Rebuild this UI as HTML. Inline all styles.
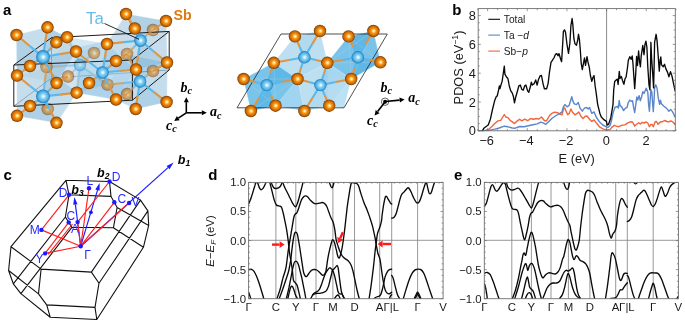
<!DOCTYPE html>
<html><head><meta charset="utf-8"><title>fig</title>
<style>
html,body{margin:0;padding:0;background:#fff;}
body{width:685px;height:324px;overflow:hidden;font-family:"Liberation Sans",sans-serif;}
svg{display:block;will-change:transform;transform:translateZ(0);}
text{font-family:"Liberation Sans",sans-serif;}
.ser{font-family:"Liberation Serif",serif;font-weight:bold;font-style:italic;}
</style></head><body>
<svg width="685" height="324" viewBox="0 0 685 324">
<defs>
<radialGradient id="gSb" cx="0.5" cy="0.5" r="0.5" fx="0.53" fy="0.50">
<stop offset="0" stop-color="#fffdf0"/><stop offset="0.2" stop-color="#ffd670"/><stop offset="0.4" stop-color="#f4941a"/><stop offset="0.6" stop-color="#e57c06"/><stop offset="0.82" stop-color="#bc6003"/><stop offset="1" stop-color="#6e3400"/>
</radialGradient>
<radialGradient id="gTa" cx="0.5" cy="0.5" r="0.5" fx="0.53" fy="0.50">
<stop offset="0" stop-color="#f4fdff"/><stop offset="0.18" stop-color="#c8eefc"/><stop offset="0.4" stop-color="#84cef2"/><stop offset="0.66" stop-color="#5bbaec"/><stop offset="0.86" stop-color="#3a9ad2"/><stop offset="1" stop-color="#2070a6"/>
</radialGradient>
</defs>
<rect width="685" height="324" fill="#fff"/>
<g id="pa">
<line x1="51.5" y1="37.7" x2="51.5" y2="78" stroke="#333" stroke-width="0.7"/>
<line x1="51.5" y1="78" x2="169.2" y2="70" stroke="#333" stroke-width="0.7"/>
<line x1="13.8" y1="106.3" x2="51.5" y2="78" stroke="#333" stroke-width="0.7"/>
<line x1="80.0" y1="65.0" x2="93.8" y2="74.8" stroke="#5ab8ec" stroke-width="2.2" opacity="0.8"/>
<line x1="93.8" y1="74.8" x2="107.5" y2="84.6" stroke="#dc9644" stroke-width="2.2" opacity="0.8"/>
<line x1="80.0" y1="65.0" x2="78.3" y2="78.8" stroke="#5ab8ec" stroke-width="2.2" opacity="0.8"/>
<line x1="78.3" y1="78.8" x2="76.6" y2="92.7" stroke="#dc9644" stroke-width="2.2" opacity="0.8"/>
<line x1="80.0" y1="65.0" x2="74.0" y2="70.8" stroke="#5ab8ec" stroke-width="2.2" opacity="0.8"/>
<line x1="74.0" y1="70.8" x2="68.0" y2="76.5" stroke="#dc9644" stroke-width="2.2" opacity="0.8"/>
<line x1="80.0" y1="65.0" x2="63.2" y2="66.0" stroke="#5ab8ec" stroke-width="2.2" opacity="0.8"/>
<line x1="63.2" y1="66.0" x2="46.5" y2="67.0" stroke="#dc9644" stroke-width="2.2" opacity="0.8"/>
<line x1="80.0" y1="65.0" x2="87.0" y2="59.0" stroke="#5ab8ec" stroke-width="2.2" opacity="0.8"/>
<line x1="87.0" y1="59.0" x2="94.0" y2="53.0" stroke="#dc9644" stroke-width="2.2" opacity="0.8"/>
<line x1="80.0" y1="65.0" x2="78.0" y2="58.2" stroke="#5ab8ec" stroke-width="2.2" opacity="0.8"/>
<line x1="78.0" y1="58.2" x2="76.0" y2="51.5" stroke="#dc9644" stroke-width="2.2" opacity="0.8"/>
<line x1="80.0" y1="65.0" x2="73.5" y2="51.1" stroke="#5ab8ec" stroke-width="2.2" opacity="0.8"/>
<line x1="73.5" y1="51.1" x2="67.1" y2="37.2" stroke="#dc9644" stroke-width="2.2" opacity="0.8"/>
<circle cx="80.0" cy="65.0" r="6.2" fill="url(#gTa)" opacity="0.9"/>
<circle cx="153.0" cy="30.0" r="6.2" fill="url(#gSb)" opacity="0.6"/>
<circle cx="127.0" cy="54.0" r="6.2" fill="url(#gSb)" opacity="0.6"/>
<circle cx="94.0" cy="53.0" r="6.2" fill="url(#gSb)" opacity="0.6"/>
<circle cx="46.5" cy="67.0" r="6.2" fill="url(#gSb)" opacity="0.6"/>
<circle cx="68.0" cy="76.5" r="6.2" fill="url(#gSb)" opacity="0.6"/>
<circle cx="153.0" cy="71.0" r="6.2" fill="url(#gSb)" opacity="0.6"/>
<circle cx="107.5" cy="84.6" r="6.2" fill="url(#gSb)" opacity="0.6"/>
<circle cx="127.0" cy="94.0" r="6.2" fill="url(#gSb)" opacity="0.6"/>
<circle cx="47.7" cy="109.0" r="6.2" fill="url(#gSb)" opacity="0.6"/>
<polygon points="16.5,35.0 47.5,27.3 67.0,37.0 76.0,47.5 107.0,41.0 114.0,33.5 126.0,14.0 166.0,21.0 167.6,62.0 167.0,102.0 136.0,109.0 116.0,100.0 100.0,97.0 77.0,93.0 57.0,123.0 17.0,116.0" fill="rgba(150,192,220,0.36)"/>
<polygon points="46.5,67.0 67.1,37.2 107.0,44.0 107.5,84.6 76.6,92.7" fill="rgba(160,204,230,0.26)" stroke="rgba(215,235,246,0.5)" stroke-width="0.6"/>
<polygon points="46.5,67.0 67.1,37.2 80.0,65.0" fill="rgba(255,255,255,0.13)"/>
<polygon points="67.1,37.2 107.0,44.0 80.0,65.0" fill="rgba(60,150,210,0.10)"/>
<polygon points="107.0,44.0 107.5,84.6 80.0,65.0" fill="rgba(255,255,255,0.13)"/>
<polygon points="107.5,84.6 76.6,92.7 80.0,65.0" fill="rgba(60,150,210,0.10)"/>
<polygon points="76.6,92.7 46.5,67.0 80.0,65.0" fill="rgba(255,255,255,0.13)"/>
<polygon points="107.0,44.0 126.0,14.0 166.0,21.0 167.0,62.5 136.0,69.5" fill="rgba(140,184,214,0.34)" stroke="rgba(215,235,246,0.5)" stroke-width="0.6"/>
<polygon points="107.0,44.0 126.0,14.0 140.5,40.5" fill="rgba(255,255,255,0.13)"/>
<polygon points="126.0,14.0 166.0,21.0 140.5,40.5" fill="rgba(60,150,210,0.10)"/>
<polygon points="166.0,21.0 167.0,62.5 140.5,40.5" fill="rgba(255,255,255,0.13)"/>
<polygon points="167.0,62.5 136.0,69.5 140.5,40.5" fill="rgba(60,150,210,0.10)"/>
<polygon points="136.0,69.5 107.0,44.0 140.5,40.5" fill="rgba(255,255,255,0.13)"/>
<polygon points="107.5,84.6 127.0,54.0 167.0,62.5 166.6,102.0 135.7,109.0 116.0,99.5" fill="rgba(125,184,220,0.32)" stroke="rgba(215,235,246,0.5)" stroke-width="0.6"/>
<polygon points="107.5,84.6 127.0,54.0 140.0,81.4" fill="rgba(255,255,255,0.13)"/>
<polygon points="127.0,54.0 167.0,62.5 140.0,81.4" fill="rgba(60,150,210,0.10)"/>
<polygon points="167.0,62.5 166.6,102.0 140.0,81.4" fill="rgba(255,255,255,0.13)"/>
<polygon points="166.6,102.0 135.7,109.0 140.0,81.4" fill="rgba(60,150,210,0.10)"/>
<polygon points="135.7,109.0 116.0,99.5 140.0,81.4" fill="rgba(255,255,255,0.13)"/>
<polygon points="116.0,99.5 107.5,84.6 140.0,81.4" fill="rgba(60,150,210,0.10)"/>
<polygon points="16.5,35.0 47.5,27.3 67.1,37.2 76.0,51.5 56.5,83.0 17.0,75.5" fill="rgba(135,182,212,0.32)" stroke="rgba(215,235,246,0.5)" stroke-width="0.6"/>
<polygon points="16.5,35.0 47.5,27.3 43.0,57.0" fill="rgba(255,255,255,0.13)"/>
<polygon points="47.5,27.3 67.1,37.2 43.0,57.0" fill="rgba(60,150,210,0.10)"/>
<polygon points="67.1,37.2 76.0,51.5 43.0,57.0" fill="rgba(255,255,255,0.13)"/>
<polygon points="76.0,51.5 56.5,83.0 43.0,57.0" fill="rgba(60,150,210,0.10)"/>
<polygon points="56.5,83.0 17.0,75.5 43.0,57.0" fill="rgba(255,255,255,0.13)"/>
<polygon points="17.0,75.5 16.5,35.0 43.0,57.0" fill="rgba(60,150,210,0.10)"/>
<polygon points="17.0,75.5 46.5,67.0 76.6,92.7 56.5,122.8 17.0,115.8" fill="rgba(135,182,212,0.32)" stroke="rgba(215,235,246,0.5)" stroke-width="0.6"/>
<polygon points="17.0,75.5 46.5,67.0 43.0,96.4" fill="rgba(255,255,255,0.13)"/>
<polygon points="46.5,67.0 76.6,92.7 43.0,96.4" fill="rgba(60,150,210,0.10)"/>
<polygon points="76.6,92.7 56.5,122.8 43.0,96.4" fill="rgba(255,255,255,0.13)"/>
<polygon points="56.5,122.8 17.0,115.8 43.0,96.4" fill="rgba(60,150,210,0.10)"/>
<polygon points="17.0,115.8 17.0,75.5 43.0,96.4" fill="rgba(255,255,255,0.13)"/>
<polygon points="76.0,51.5 107.0,44.0 136.0,69.5 116.0,99.5 76.6,92.7" fill="rgba(120,185,222,0.30)" stroke="rgba(215,235,246,0.5)" stroke-width="0.6"/>
<polygon points="76.0,51.5 107.0,44.0 102.5,72.5" fill="rgba(255,255,255,0.13)"/>
<polygon points="107.0,44.0 136.0,69.5 102.5,72.5" fill="rgba(60,150,210,0.10)"/>
<polygon points="136.0,69.5 116.0,99.5 102.5,72.5" fill="rgba(255,255,255,0.13)"/>
<polygon points="116.0,99.5 76.6,92.7 102.5,72.5" fill="rgba(60,150,210,0.10)"/>
<polygon points="76.6,92.7 76.0,51.5 102.5,72.5" fill="rgba(255,255,255,0.13)"/>
<circle cx="153.0" cy="30.0" r="6.2" fill="url(#gSb)" opacity="0.42"/>
<circle cx="127.0" cy="54.0" r="6.2" fill="url(#gSb)" opacity="0.42"/>
<circle cx="94.0" cy="53.0" r="6.2" fill="url(#gSb)" opacity="0.42"/>
<circle cx="46.5" cy="67.0" r="6.2" fill="url(#gSb)" opacity="0.42"/>
<circle cx="68.0" cy="76.5" r="6.2" fill="url(#gSb)" opacity="0.42"/>
<circle cx="153.0" cy="71.0" r="6.2" fill="url(#gSb)" opacity="0.42"/>
<circle cx="107.5" cy="84.6" r="6.2" fill="url(#gSb)" opacity="0.42"/>
<circle cx="127.0" cy="94.0" r="6.2" fill="url(#gSb)" opacity="0.42"/>
<circle cx="47.7" cy="109.0" r="6.2" fill="url(#gSb)" opacity="0.42"/>
<circle cx="80.0" cy="65.0" r="6.2" fill="url(#gTa)" opacity="0.35"/>
<line x1="13.8" y1="65" x2="132.4" y2="60" stroke="#111" stroke-width="0.95"/>
<line x1="132.4" y1="60" x2="132.4" y2="100.2" stroke="#111" stroke-width="0.95"/>
<line x1="132.4" y1="100.2" x2="13.8" y2="106.3" stroke="#111" stroke-width="0.95"/>
<line x1="13.8" y1="106.3" x2="13.8" y2="65" stroke="#111" stroke-width="0.95"/>
<line x1="51.5" y1="37.7" x2="169.2" y2="31.4" stroke="#111" stroke-width="0.95"/>
<line x1="169.2" y1="31.4" x2="169.2" y2="70" stroke="#111" stroke-width="0.95"/>
<line x1="13.8" y1="65" x2="51.5" y2="37.7" stroke="#111" stroke-width="0.95"/>
<line x1="132.4" y1="60" x2="169.2" y2="31.4" stroke="#111" stroke-width="0.95"/>
<line x1="132.4" y1="100.2" x2="169.2" y2="70" stroke="#111" stroke-width="0.95"/>
<line x1="43.0" y1="57.0" x2="29.8" y2="46.0" stroke="#5ab8ec" stroke-width="2.2"/>
<line x1="29.8" y1="46.0" x2="16.5" y2="35.0" stroke="#dc9644" stroke-width="2.2"/>
<line x1="43.0" y1="57.0" x2="45.2" y2="42.1" stroke="#5ab8ec" stroke-width="2.2"/>
<line x1="45.2" y1="42.1" x2="47.5" y2="27.3" stroke="#dc9644" stroke-width="2.2"/>
<line x1="43.0" y1="57.0" x2="49.6" y2="49.6" stroke="#5ab8ec" stroke-width="2.2"/>
<line x1="49.6" y1="49.6" x2="56.3" y2="42.3" stroke="#dc9644" stroke-width="2.2"/>
<line x1="43.0" y1="57.0" x2="59.5" y2="54.2" stroke="#5ab8ec" stroke-width="2.2"/>
<line x1="59.5" y1="54.2" x2="76.0" y2="51.5" stroke="#dc9644" stroke-width="2.2"/>
<line x1="43.0" y1="57.0" x2="36.5" y2="61.5" stroke="#5ab8ec" stroke-width="2.2"/>
<line x1="36.5" y1="61.5" x2="30.0" y2="66.0" stroke="#dc9644" stroke-width="2.2"/>
<line x1="43.0" y1="57.0" x2="44.8" y2="62.0" stroke="#5ab8ec" stroke-width="2.2" opacity="0.75"/>
<line x1="44.8" y1="62.0" x2="46.5" y2="67.0" stroke="#dc9644" stroke-width="2.2" opacity="0.75"/>
<line x1="43.0" y1="57.0" x2="49.8" y2="70.0" stroke="#5ab8ec" stroke-width="2.2"/>
<line x1="49.8" y1="70.0" x2="56.5" y2="83.0" stroke="#dc9644" stroke-width="2.2"/>
<line x1="43.0" y1="96.4" x2="30.0" y2="86.0" stroke="#5ab8ec" stroke-width="2.2"/>
<line x1="30.0" y1="86.0" x2="17.0" y2="75.5" stroke="#dc9644" stroke-width="2.2"/>
<line x1="43.0" y1="96.4" x2="44.8" y2="81.7" stroke="#5ab8ec" stroke-width="2.2" opacity="0.75"/>
<line x1="44.8" y1="81.7" x2="46.5" y2="67.0" stroke="#dc9644" stroke-width="2.2" opacity="0.75"/>
<line x1="43.0" y1="96.4" x2="49.8" y2="89.7" stroke="#5ab8ec" stroke-width="2.2"/>
<line x1="49.8" y1="89.7" x2="56.5" y2="83.0" stroke="#dc9644" stroke-width="2.2"/>
<line x1="43.0" y1="96.4" x2="59.8" y2="94.6" stroke="#5ab8ec" stroke-width="2.2"/>
<line x1="59.8" y1="94.6" x2="76.6" y2="92.7" stroke="#dc9644" stroke-width="2.2"/>
<line x1="43.0" y1="96.4" x2="36.5" y2="101.2" stroke="#5ab8ec" stroke-width="2.2"/>
<line x1="36.5" y1="101.2" x2="30.0" y2="106.0" stroke="#dc9644" stroke-width="2.2"/>
<line x1="43.0" y1="96.4" x2="45.4" y2="102.7" stroke="#5ab8ec" stroke-width="2.2" opacity="0.75"/>
<line x1="45.4" y1="102.7" x2="47.7" y2="109.0" stroke="#dc9644" stroke-width="2.2" opacity="0.75"/>
<line x1="43.0" y1="96.4" x2="49.8" y2="109.6" stroke="#5ab8ec" stroke-width="2.2"/>
<line x1="49.8" y1="109.6" x2="56.5" y2="122.8" stroke="#dc9644" stroke-width="2.2"/>
<line x1="102.5" y1="72.5" x2="89.2" y2="62.0" stroke="#5ab8ec" stroke-width="2.2"/>
<line x1="89.2" y1="62.0" x2="76.0" y2="51.5" stroke="#dc9644" stroke-width="2.2"/>
<line x1="102.5" y1="72.5" x2="104.8" y2="58.2" stroke="#5ab8ec" stroke-width="2.2"/>
<line x1="104.8" y1="58.2" x2="107.0" y2="44.0" stroke="#dc9644" stroke-width="2.2"/>
<line x1="102.5" y1="72.5" x2="109.2" y2="66.8" stroke="#5ab8ec" stroke-width="2.2"/>
<line x1="109.2" y1="66.8" x2="116.0" y2="61.0" stroke="#dc9644" stroke-width="2.2"/>
<line x1="102.5" y1="72.5" x2="119.2" y2="71.0" stroke="#5ab8ec" stroke-width="2.2"/>
<line x1="119.2" y1="71.0" x2="136.0" y2="69.5" stroke="#dc9644" stroke-width="2.2"/>
<line x1="102.5" y1="72.5" x2="95.8" y2="77.8" stroke="#5ab8ec" stroke-width="2.2"/>
<line x1="95.8" y1="77.8" x2="89.0" y2="83.0" stroke="#dc9644" stroke-width="2.2"/>
<line x1="102.5" y1="72.5" x2="105.0" y2="78.5" stroke="#5ab8ec" stroke-width="2.2" opacity="0.75"/>
<line x1="105.0" y1="78.5" x2="107.5" y2="84.6" stroke="#dc9644" stroke-width="2.2" opacity="0.75"/>
<line x1="102.5" y1="72.5" x2="109.2" y2="86.0" stroke="#5ab8ec" stroke-width="2.2"/>
<line x1="109.2" y1="86.0" x2="116.0" y2="99.5" stroke="#dc9644" stroke-width="2.2"/>
<line x1="140.5" y1="40.5" x2="153.8" y2="51.5" stroke="#5ab8ec" stroke-width="2.2"/>
<line x1="153.8" y1="51.5" x2="167.0" y2="62.5" stroke="#dc9644" stroke-width="2.2"/>
<line x1="140.5" y1="40.5" x2="138.2" y2="55.0" stroke="#5ab8ec" stroke-width="2.2"/>
<line x1="138.2" y1="55.0" x2="136.0" y2="69.5" stroke="#dc9644" stroke-width="2.2"/>
<line x1="140.5" y1="40.5" x2="133.8" y2="47.2" stroke="#5ab8ec" stroke-width="2.2" opacity="0.75"/>
<line x1="133.8" y1="47.2" x2="127.0" y2="54.0" stroke="#dc9644" stroke-width="2.2" opacity="0.75"/>
<line x1="140.5" y1="40.5" x2="123.8" y2="42.2" stroke="#5ab8ec" stroke-width="2.2"/>
<line x1="123.8" y1="42.2" x2="107.0" y2="44.0" stroke="#dc9644" stroke-width="2.2"/>
<line x1="140.5" y1="40.5" x2="146.8" y2="35.2" stroke="#5ab8ec" stroke-width="2.2" opacity="0.75"/>
<line x1="146.8" y1="35.2" x2="153.0" y2="30.0" stroke="#dc9644" stroke-width="2.2" opacity="0.75"/>
<line x1="140.5" y1="40.5" x2="137.7" y2="34.5" stroke="#5ab8ec" stroke-width="2.2"/>
<line x1="137.7" y1="34.5" x2="134.8" y2="28.5" stroke="#dc9644" stroke-width="2.2"/>
<line x1="140.5" y1="40.5" x2="133.2" y2="27.2" stroke="#5ab8ec" stroke-width="2.2"/>
<line x1="133.2" y1="27.2" x2="126.0" y2="14.0" stroke="#dc9644" stroke-width="2.2"/>
<line x1="140.0" y1="81.4" x2="153.3" y2="91.7" stroke="#5ab8ec" stroke-width="2.2"/>
<line x1="153.3" y1="91.7" x2="166.6" y2="102.0" stroke="#dc9644" stroke-width="2.2"/>
<line x1="140.0" y1="81.4" x2="137.8" y2="95.2" stroke="#5ab8ec" stroke-width="2.2"/>
<line x1="137.8" y1="95.2" x2="135.7" y2="109.0" stroke="#dc9644" stroke-width="2.2"/>
<line x1="140.0" y1="81.4" x2="133.5" y2="87.7" stroke="#5ab8ec" stroke-width="2.2" opacity="0.75"/>
<line x1="133.5" y1="87.7" x2="127.0" y2="94.0" stroke="#dc9644" stroke-width="2.2" opacity="0.75"/>
<line x1="140.0" y1="81.4" x2="123.8" y2="83.0" stroke="#5ab8ec" stroke-width="2.2" opacity="0.75"/>
<line x1="123.8" y1="83.0" x2="107.5" y2="84.6" stroke="#dc9644" stroke-width="2.2" opacity="0.75"/>
<line x1="140.0" y1="81.4" x2="146.5" y2="76.2" stroke="#5ab8ec" stroke-width="2.2" opacity="0.75"/>
<line x1="146.5" y1="76.2" x2="153.0" y2="71.0" stroke="#dc9644" stroke-width="2.2" opacity="0.75"/>
<line x1="140.0" y1="81.4" x2="138.0" y2="75.5" stroke="#5ab8ec" stroke-width="2.2"/>
<line x1="138.0" y1="75.5" x2="136.0" y2="69.5" stroke="#dc9644" stroke-width="2.2"/>
<line x1="140.0" y1="81.4" x2="133.5" y2="67.7" stroke="#5ab8ec" stroke-width="2.2" opacity="0.75"/>
<line x1="133.5" y1="67.7" x2="127.0" y2="54.0" stroke="#dc9644" stroke-width="2.2" opacity="0.75"/>
<line x1="30" y1="66" x2="17" y2="75.5" stroke="#dc9644" stroke-width="2.1"/>
<line x1="30" y1="106" x2="17" y2="115.8" stroke="#dc9644" stroke-width="2.1"/>
<line x1="126" y1="14" x2="134.8" y2="28.5" stroke="#dc9644" stroke-width="2.1"/>
<line x1="166" y1="21" x2="153" y2="30" stroke="#dc9644" stroke-width="2.1"/>
<line x1="167" y1="62.5" x2="153" y2="71" stroke="#dc9644" stroke-width="2.1"/>
<line x1="56.5" y1="83" x2="68" y2="76.5" stroke="#dc9644" stroke-width="2.1"/>
<line x1="116" y1="61" x2="127" y2="54" stroke="#dc9644" stroke-width="2.1"/>
<line x1="116" y1="99.5" x2="127" y2="94" stroke="#dc9644" stroke-width="2.1"/>
<circle cx="43.0" cy="57.0" r="6.9" fill="url(#gTa)"/>
<circle cx="43.0" cy="96.4" r="6.9" fill="url(#gTa)"/>
<circle cx="102.5" cy="72.5" r="6.3" fill="url(#gTa)"/>
<circle cx="140.5" cy="40.5" r="6.3" fill="url(#gTa)"/>
<circle cx="140.0" cy="81.4" r="6.3" fill="url(#gTa)"/>
<circle cx="16.5" cy="35.0" r="6.2" fill="url(#gSb)"/>
<circle cx="47.5" cy="27.3" r="6.2" fill="url(#gSb)"/>
<circle cx="56.3" cy="42.3" r="6.2" fill="url(#gSb)"/>
<circle cx="67.1" cy="37.2" r="6.2" fill="url(#gSb)"/>
<circle cx="76.0" cy="51.5" r="6.2" fill="url(#gSb)"/>
<circle cx="30.0" cy="66.0" r="6.2" fill="url(#gSb)"/>
<circle cx="107.0" cy="44.0" r="6.2" fill="url(#gSb)"/>
<circle cx="116.0" cy="61.0" r="6.2" fill="url(#gSb)"/>
<circle cx="126.0" cy="14.0" r="6.2" fill="url(#gSb)"/>
<circle cx="134.8" cy="28.5" r="6.2" fill="url(#gSb)"/>
<circle cx="166.0" cy="21.0" r="6.2" fill="url(#gSb)"/>
<circle cx="136.0" cy="69.5" r="6.2" fill="url(#gSb)"/>
<circle cx="167.0" cy="62.5" r="6.2" fill="url(#gSb)"/>
<circle cx="17.0" cy="75.5" r="6.2" fill="url(#gSb)"/>
<circle cx="56.5" cy="83.0" r="6.2" fill="url(#gSb)"/>
<circle cx="89.0" cy="83.0" r="6.2" fill="url(#gSb)"/>
<circle cx="76.6" cy="92.7" r="6.2" fill="url(#gSb)"/>
<circle cx="116.0" cy="99.5" r="6.2" fill="url(#gSb)"/>
<circle cx="30.0" cy="106.0" r="6.2" fill="url(#gSb)"/>
<circle cx="17.0" cy="115.8" r="6.2" fill="url(#gSb)"/>
<circle cx="56.5" cy="122.8" r="6.2" fill="url(#gSb)"/>
<circle cx="135.7" cy="109.0" r="6.2" fill="url(#gSb)"/>
<circle cx="166.6" cy="102.0" r="6.2" fill="url(#gSb)"/>
<text x="3" y="15" font-size="15" font-weight="bold" fill="#000">a</text>
<text x="86" y="23.6" font-size="16.8" fill="#66bbec">Ta</text>
<line x1="104.5" y1="23.5" x2="139" y2="39.3" stroke="#111" stroke-width="0.9"/>
<text x="173.5" y="19.6" font-size="14.2" font-weight="bold" fill="#de7a10">Sb</text>
<line x1="186.3" y1="112.8" x2="186.3" y2="102.2" stroke="#000" stroke-width="1.6"/>
<polygon points="186.3,97.2 188.8,102.2 183.8,102.2" fill="#000"/>
<line x1="186.3" y1="112.8" x2="201.8" y2="112.8" stroke="#000" stroke-width="1.6"/>
<polygon points="206.8,112.8 201.8,115.3 201.8,110.3" fill="#000"/>
<line x1="186.3" y1="112.8" x2="178.3" y2="118.2" stroke="#000" stroke-width="1.6"/>
<polygon points="174.2,121.0 176.9,116.1 179.7,120.3" fill="#000"/>
<text x="180.6" y="91.6" font-size="14" class="ser" fill="#000">b<tspan font-size="10.1" dy="2.5">c</tspan></text>
<text x="210" y="116" font-size="14" class="ser" fill="#000">a<tspan font-size="10.1" dy="2.5">c</tspan></text>
<text x="166" y="129.5" font-size="14" class="ser" fill="#000">c<tspan font-size="10.1" dy="2.5">c</tspan></text>
<g id="tv">
<polygon points="294.9,36.4 320.0,31.0 327.3,62.8 329.2,105.7 304.4,111.0 297.5,79.0 273.8,62.8" fill="rgba(170,215,240,0.55)"/>
<polygon points="273.8,62.8 297.5,79.0 304.4,111.0 275.5,105.7 250.9,111.0 243.6,79.0" fill="rgba(80,178,228,0.55)"/>
<polygon points="348.5,36.4 373.4,31.0 380.4,62.3 351.2,79.0 327.3,62.8" fill="rgba(80,178,228,0.55)"/>
<polygon points="327.3,62.8 351.2,79.0 344.0,107.7 329.2,105.7 320.4,85.1" fill="rgba(120,195,235,0.5)"/>
<polygon points="273.8,62.8 294.9,36.4 320.0,31.0 327.3,62.8 297.5,79.0" fill="rgba(150,205,235,0.55)" stroke="rgba(220,238,248,0.6)" stroke-width="0.5"/>
<polygon points="273.8,62.8 294.9,36.4 304.4,57.3" fill="rgba(255,255,255,0.16)"/>
<line x1="273.8" y1="62.8" x2="320" y2="31" stroke="rgba(200,215,225,0.5)" stroke-width="0.5"/>
<line x1="294.9" y1="36.4" x2="327.3" y2="62.8" stroke="rgba(200,215,225,0.5)" stroke-width="0.5"/>
<polygon points="320.0,31.0 327.3,62.8 304.4,57.3" fill="rgba(255,255,255,0.16)"/>
<line x1="320" y1="31" x2="297.5" y2="79" stroke="rgba(200,215,225,0.5)" stroke-width="0.5"/>
<line x1="327.3" y1="62.8" x2="273.8" y2="62.8" stroke="rgba(200,215,225,0.5)" stroke-width="0.5"/>
<polygon points="297.5,79.0 273.8,62.8 304.4,57.3" fill="rgba(255,255,255,0.16)"/>
<line x1="297.5" y1="79" x2="294.9" y2="36.4" stroke="rgba(200,215,225,0.5)" stroke-width="0.5"/>
<polygon points="327.3,62.8 348.5,36.4 373.4,31.0 380.4,62.3 351.2,79.0" fill="rgba(70,170,225,0.70)" stroke="rgba(220,238,248,0.6)" stroke-width="0.5"/>
<polygon points="327.3,62.8 348.5,36.4 357.8,57.3" fill="rgba(255,255,255,0.16)"/>
<line x1="327.3" y1="62.8" x2="373.4" y2="31" stroke="rgba(200,215,225,0.5)" stroke-width="0.5"/>
<line x1="348.5" y1="36.4" x2="380.4" y2="62.3" stroke="rgba(200,215,225,0.5)" stroke-width="0.5"/>
<polygon points="373.4,31.0 380.4,62.3 357.8,57.3" fill="rgba(255,255,255,0.16)"/>
<line x1="373.4" y1="31" x2="351.2" y2="79" stroke="rgba(200,215,225,0.5)" stroke-width="0.5"/>
<line x1="380.4" y1="62.3" x2="327.3" y2="62.8" stroke="rgba(200,215,225,0.5)" stroke-width="0.5"/>
<polygon points="351.2,79.0 327.3,62.8 357.8,57.3" fill="rgba(255,255,255,0.16)"/>
<line x1="351.2" y1="79" x2="348.5" y2="36.4" stroke="rgba(200,215,225,0.5)" stroke-width="0.5"/>
<polygon points="243.6,79.0 273.8,62.8 297.5,79.0 275.5,105.7 250.9,111.0" fill="rgba(70,175,228,0.72)" stroke="rgba(220,238,248,0.6)" stroke-width="0.5"/>
<polygon points="243.6,79.0 273.8,62.8 266.7,85.1" fill="rgba(255,255,255,0.16)"/>
<line x1="243.6" y1="79" x2="297.5" y2="79" stroke="rgba(200,215,225,0.5)" stroke-width="0.5"/>
<line x1="273.8" y1="62.8" x2="275.5" y2="105.7" stroke="rgba(200,215,225,0.5)" stroke-width="0.5"/>
<polygon points="297.5,79.0 275.5,105.7 266.7,85.1" fill="rgba(255,255,255,0.16)"/>
<line x1="297.5" y1="79" x2="250.9" y2="111" stroke="rgba(200,215,225,0.5)" stroke-width="0.5"/>
<line x1="275.5" y1="105.7" x2="243.6" y2="79" stroke="rgba(200,215,225,0.5)" stroke-width="0.5"/>
<polygon points="250.9,111.0 243.6,79.0 266.7,85.1" fill="rgba(255,255,255,0.16)"/>
<line x1="250.9" y1="111" x2="273.8" y2="62.8" stroke="rgba(200,215,225,0.5)" stroke-width="0.5"/>
<polygon points="297.5,79.0 327.3,62.8 351.2,79.0 329.2,105.7 304.4,111.0" fill="rgba(150,205,235,0.55)" stroke="rgba(220,238,248,0.6)" stroke-width="0.5"/>
<polygon points="297.5,79.0 327.3,62.8 320.4,85.1" fill="rgba(255,255,255,0.16)"/>
<line x1="297.5" y1="79" x2="351.2" y2="79" stroke="rgba(200,215,225,0.5)" stroke-width="0.5"/>
<line x1="327.3" y1="62.8" x2="329.2" y2="105.7" stroke="rgba(200,215,225,0.5)" stroke-width="0.5"/>
<polygon points="351.2,79.0 329.2,105.7 320.4,85.1" fill="rgba(255,255,255,0.16)"/>
<line x1="351.2" y1="79" x2="304.4" y2="111" stroke="rgba(200,215,225,0.5)" stroke-width="0.5"/>
<line x1="329.2" y1="105.7" x2="297.5" y2="79" stroke="rgba(200,215,225,0.5)" stroke-width="0.5"/>
<polygon points="304.4,111.0 297.5,79.0 320.4,85.1" fill="rgba(255,255,255,0.16)"/>
<line x1="304.4" y1="111" x2="327.3" y2="62.8" stroke="rgba(200,215,225,0.5)" stroke-width="0.5"/>
<polygon points="281,34 387.3,34 344,107.8 237,107.8" fill="none" stroke="#222" stroke-width="0.8"/>
<line x1="304.4" y1="57.3" x2="299.6" y2="46.8" stroke="#5ab8ec" stroke-width="2.1"/>
<line x1="299.6" y1="46.8" x2="294.9" y2="36.4" stroke="#dc9644" stroke-width="2.1"/>
<line x1="304.4" y1="57.3" x2="312.2" y2="44.1" stroke="#5ab8ec" stroke-width="2.1"/>
<line x1="312.2" y1="44.1" x2="320.0" y2="31.0" stroke="#dc9644" stroke-width="2.1"/>
<line x1="304.4" y1="57.3" x2="289.1" y2="60.0" stroke="#5ab8ec" stroke-width="2.1"/>
<line x1="289.1" y1="60.0" x2="273.8" y2="62.8" stroke="#dc9644" stroke-width="2.1"/>
<line x1="304.4" y1="57.3" x2="315.9" y2="60.0" stroke="#5ab8ec" stroke-width="2.1"/>
<line x1="315.9" y1="60.0" x2="327.3" y2="62.8" stroke="#dc9644" stroke-width="2.1"/>
<line x1="304.4" y1="57.3" x2="300.9" y2="68.2" stroke="#5ab8ec" stroke-width="2.1"/>
<line x1="300.9" y1="68.2" x2="297.5" y2="79.0" stroke="#dc9644" stroke-width="2.1"/>
<line x1="357.8" y1="57.3" x2="353.1" y2="46.8" stroke="#5ab8ec" stroke-width="2.1"/>
<line x1="353.1" y1="46.8" x2="348.5" y2="36.4" stroke="#dc9644" stroke-width="2.1"/>
<line x1="357.8" y1="57.3" x2="365.6" y2="44.1" stroke="#5ab8ec" stroke-width="2.1"/>
<line x1="365.6" y1="44.1" x2="373.4" y2="31.0" stroke="#dc9644" stroke-width="2.1"/>
<line x1="357.8" y1="57.3" x2="342.6" y2="60.0" stroke="#5ab8ec" stroke-width="2.1"/>
<line x1="342.6" y1="60.0" x2="327.3" y2="62.8" stroke="#dc9644" stroke-width="2.1"/>
<line x1="357.8" y1="57.3" x2="369.1" y2="59.8" stroke="#5ab8ec" stroke-width="2.1"/>
<line x1="369.1" y1="59.8" x2="380.4" y2="62.3" stroke="#dc9644" stroke-width="2.1"/>
<line x1="357.8" y1="57.3" x2="354.5" y2="68.2" stroke="#5ab8ec" stroke-width="2.1"/>
<line x1="354.5" y1="68.2" x2="351.2" y2="79.0" stroke="#dc9644" stroke-width="2.1"/>
<line x1="266.7" y1="85.1" x2="270.2" y2="73.9" stroke="#5ab8ec" stroke-width="2.1"/>
<line x1="270.2" y1="73.9" x2="273.8" y2="62.8" stroke="#dc9644" stroke-width="2.1"/>
<line x1="266.7" y1="85.1" x2="255.1" y2="82.0" stroke="#5ab8ec" stroke-width="2.1"/>
<line x1="255.1" y1="82.0" x2="243.6" y2="79.0" stroke="#dc9644" stroke-width="2.1"/>
<line x1="266.7" y1="85.1" x2="282.1" y2="82.0" stroke="#5ab8ec" stroke-width="2.1"/>
<line x1="282.1" y1="82.0" x2="297.5" y2="79.0" stroke="#dc9644" stroke-width="2.1"/>
<line x1="266.7" y1="85.1" x2="258.8" y2="98.0" stroke="#5ab8ec" stroke-width="2.1"/>
<line x1="258.8" y1="98.0" x2="250.9" y2="111.0" stroke="#dc9644" stroke-width="2.1"/>
<line x1="266.7" y1="85.1" x2="271.1" y2="95.4" stroke="#5ab8ec" stroke-width="2.1"/>
<line x1="271.1" y1="95.4" x2="275.5" y2="105.7" stroke="#dc9644" stroke-width="2.1"/>
<line x1="320.4" y1="85.1" x2="323.9" y2="73.9" stroke="#5ab8ec" stroke-width="2.1"/>
<line x1="323.9" y1="73.9" x2="327.3" y2="62.8" stroke="#dc9644" stroke-width="2.1"/>
<line x1="320.4" y1="85.1" x2="308.9" y2="82.0" stroke="#5ab8ec" stroke-width="2.1"/>
<line x1="308.9" y1="82.0" x2="297.5" y2="79.0" stroke="#dc9644" stroke-width="2.1"/>
<line x1="320.4" y1="85.1" x2="335.8" y2="82.0" stroke="#5ab8ec" stroke-width="2.1"/>
<line x1="335.8" y1="82.0" x2="351.2" y2="79.0" stroke="#dc9644" stroke-width="2.1"/>
<line x1="320.4" y1="85.1" x2="312.4" y2="98.0" stroke="#5ab8ec" stroke-width="2.1"/>
<line x1="312.4" y1="98.0" x2="304.4" y2="111.0" stroke="#dc9644" stroke-width="2.1"/>
<line x1="320.4" y1="85.1" x2="324.8" y2="95.4" stroke="#5ab8ec" stroke-width="2.1"/>
<line x1="324.8" y1="95.4" x2="329.2" y2="105.7" stroke="#dc9644" stroke-width="2.1"/>
<circle cx="304.4" cy="57.3" r="6.2" fill="url(#gTa)"/>
<circle cx="357.8" cy="57.3" r="6.2" fill="url(#gTa)"/>
<circle cx="266.7" cy="85.1" r="6.2" fill="url(#gTa)"/>
<circle cx="320.4" cy="85.1" r="6.2" fill="url(#gTa)"/>
<circle cx="294.9" cy="36.4" r="6.2" fill="url(#gSb)"/>
<circle cx="348.5" cy="36.4" r="6.2" fill="url(#gSb)"/>
<circle cx="320.0" cy="31.0" r="6.2" fill="url(#gSb)"/>
<circle cx="373.4" cy="31.0" r="6.2" fill="url(#gSb)"/>
<circle cx="273.8" cy="62.8" r="6.2" fill="url(#gSb)"/>
<circle cx="327.3" cy="62.8" r="6.2" fill="url(#gSb)"/>
<circle cx="380.4" cy="62.3" r="6.2" fill="url(#gSb)"/>
<circle cx="243.6" cy="79.0" r="6.2" fill="url(#gSb)"/>
<circle cx="297.5" cy="79.0" r="6.2" fill="url(#gSb)"/>
<circle cx="351.2" cy="79.0" r="6.2" fill="url(#gSb)"/>
<circle cx="250.9" cy="111.0" r="6.2" fill="url(#gSb)"/>
<circle cx="304.4" cy="111.0" r="6.2" fill="url(#gSb)"/>
<circle cx="275.5" cy="105.7" r="6.2" fill="url(#gSb)"/>
<circle cx="329.2" cy="105.7" r="6.2" fill="url(#gSb)"/>
</g>
<line x1="385.4" y1="101.5" x2="399.6" y2="100.1" stroke="#000" stroke-width="1.6"/>
<polygon points="404.6,99.6 399.9,102.6 399.4,97.6" fill="#000"/>
<line x1="385.4" y1="101.5" x2="377.6" y2="111.6" stroke="#000" stroke-width="1.6"/>
<polygon points="374.6,115.6 375.7,110.1 379.6,113.2" fill="#000"/>
<circle cx="385.09999999999997" cy="101.7" r="3.7" fill="none" stroke="#000" stroke-width="0.6"/>
<circle cx="385.09999999999997" cy="101.7" r="2.0" fill="#000"/>
<text x="380.6" y="91.6" font-size="14" class="ser" fill="#000">b<tspan font-size="10.1" dy="2.5">c</tspan></text>
<text x="408.3" y="102.4" font-size="14" class="ser" fill="#000">a<tspan font-size="10.1" dy="2.5">c</tspan></text>
<text x="367" y="124.8" font-size="14" class="ser" fill="#000">c<tspan font-size="10.1" dy="2.5">c</tspan></text>
</g>
<g id="pb">
<clipPath id="cb"><rect x="478.2" y="8.6" width="197.09999999999997" height="122.70000000000002"/></clipPath>
<line x1="606.6" y1="8.6" x2="606.6" y2="130.8" stroke="#8a8a8a" stroke-width="1"/>
<g clip-path="url(#cb)" fill="none" stroke-linejoin="round" stroke-linecap="round">
<polyline points="478.2,130.8 484.6,130.6 489.0,129.1 491.9,126.5 494.8,123.6 497.7,120.9 500.7,120.4 502.8,117.0 504.3,114.5 505.8,117.0 508.0,117.7 510.1,120.4 513.1,122.4 514.5,123.6 516.7,121.4 519.6,119.2 521.8,120.9 524.7,119.2 527.7,120.7 530.6,118.5 533.5,119.2 536.4,118.5 538.6,119.2 541.5,117.0 544.5,120.7 546.6,120.7 549.6,115.5 551.8,113.4 554.7,112.2 557.6,112.6 559.8,114.1 562.0,114.8 563.4,109.4 564.6,107.8 566.4,111.9 567.7,114.8 569.2,113.4 570.9,109.0 572.8,112.6 575.0,114.8 577.2,113.4 578.7,111.9 580.9,116.3 583.1,118.5 585.3,116.3 587.0,116.0 589.6,119.2 591.8,121.4 594.0,119.9 596.2,122.8 599.9,127.2 603.5,129.1 607.2,130.0 610.1,129.4 611.8,127.4 614.3,125.3 616.1,126.1 618.6,126.7 621.7,125.3 624.8,124.9 627.9,122.8 630.4,121.8 632.5,122.0 634.7,126.1 636.6,124.3 638.7,122.8 640.3,124.0 642.2,122.4 644.0,123.0 646.2,122.0 647.8,123.0 649.4,126.7 650.9,124.5 652.1,124.5 653.3,126.7 655.2,121.8 656.5,121.5 658.1,124.3 660.2,122.0 662.0,121.8 664.5,120.5 667.0,121.5 668.9,121.8 670.7,120.8 672.6,121.8 675.2,124.5" stroke="#f0653a" stroke-width="1.4"/>
<polyline points="478.2,130.8 487.5,130.6 494.8,129.1 499.2,128.0 504.3,126.2 508.0,126.8 512.3,128.0 515.3,128.2 519.6,126.5 524.0,126.8 528.4,125.8 532.8,124.7 537.2,123.9 540.8,122.1 543.0,122.8 545.9,124.3 548.8,121.4 551.8,118.5 556.1,115.5 559.8,113.6 562.0,111.9 563.4,106.8 564.9,104.6 567.0,106.8 569.2,105.3 570.7,100.2 571.8,96.6 572.8,100.9 574.3,103.9 576.5,104.6 578.2,102.4 580.1,108.2 582.3,111.2 584.5,108.2 586.7,107.5 588.2,109.0 589.6,107.5 591.8,113.4 594.0,111.9 596.2,117.0 599.1,121.4 602.8,125.0 606.4,126.8 607.9,127.4 610.1,125.4 611.2,121.8 613.0,113.1 614.9,107.5 617.4,106.3 618.4,108.1 619.2,100.5 620.1,105.6 621.7,106.9 623.6,110.6 625.4,108.1 627.0,107.5 628.3,102.5 629.8,100.1 631.3,101.3 632.5,100.7 633.5,106.9 634.7,112.5 636.0,103.2 636.8,97.0 637.8,100.1 639.1,95.7 640.3,100.7 641.6,97.0 642.8,91.6 644.0,93.5 646.2,88.2 647.8,92.0 648.6,104.4 649.4,111.2 650.2,99.4 650.9,89.7 651.8,92.0 652.7,104.4 653.3,111.6 654.1,99.4 654.6,88.0 655.8,84.8 657.1,88.5 658.3,98.2 659.6,104.4 660.5,100.1 661.4,103.8 663.9,106.3 666.4,108.1 668.9,111.2 670.7,109.4 672.6,111.9 675.2,116.8" stroke="#5b86c9" stroke-width="1.4"/>
<polyline points="482.4,130.8 483.9,128.2 486.1,126.5 488.2,125.0 490.4,119.2 492.6,109.0 494.8,100.2 496.3,96.6 497.2,96.0 498.4,90.9 499.4,86.0 500.0,88.5 500.8,85.5 502.1,81.4 503.2,74.0 504.3,66.1 504.9,74.1 506.5,77.0 507.9,78.5 509.4,86.5 510.8,90.9 512.3,93.1 513.4,96.5 514.5,102.8 515.6,97.5 516.7,93.8 518.9,85.8 520.3,85.0 521.8,89.4 523.3,90.1 524.7,85.8 525.9,85.0 527.6,90.9 528.8,92.3 530.6,85.8 531.3,82.1 532.3,85.0 534.2,83.6 535.7,79.9 537.1,85.0 538.6,79.2 540.0,76.0 541.5,75.5 543.0,83.6 544.4,88.7 546.6,88.7 548.1,83.6 549.5,71.9 551.0,62.4 552.5,60.2 553.9,58.0 555.4,54.4 556.8,53.6 558.0,55.8 559.0,53.6 560.5,58.8 561.6,61.7 562.2,52.0 562.8,42.0 563.4,31.4 564.5,29.9 565.5,32.1 567.0,44.5 568.5,53.3 569.9,43.0 570.9,25.5 572.1,18.5 572.8,24.1 573.9,38.7 575.0,43.8 576.5,45.2 577.7,40.1 578.5,34.3 579.4,39.4 580.3,50.0 581.2,63.1 582.3,69.7 583.8,61.7 584.5,58.0 585.5,65.3 587.0,56.6 587.9,61.7 589.3,67.5 590.4,75.5 591.8,81.4 592.8,77.7 594.0,75.5 595.2,86.5 596.2,93.1 597.7,104.6 599.9,113.4 601.3,117.0 604.2,119.9 606.4,121.4 607.2,125.0 608.6,124.3 610.8,117.7 613.0,104.6 613.7,90.0 614.7,81.4 616.2,79.9 617.4,79.2 618.1,84.5 619.3,71.4 620.0,78.5 621.3,76.5 622.5,80.4 623.9,84.3 625.0,78.9 626.1,77.0 627.3,69.0 628.3,60.5 629.8,56.7 631.1,59.3 632.2,56.0 633.0,64.0 633.8,76.0 634.7,88.6 635.7,74.0 636.6,56.5 637.5,65.5 638.6,51.0 639.6,62.0 640.4,66.8 641.2,56.0 642.8,45.4 644.0,54.7 644.9,44.8 645.9,41.1 646.9,47.3 647.8,67.0 649.0,84.8 649.9,89.7 650.5,67.0 650.9,42.3 651.6,58.0 652.7,73.6 653.6,87.9 654.1,67.0 654.6,42.3 656.1,34.3 657.1,41.1 658.2,56.0 659.3,71.1 660.2,60.0 660.8,57.0 661.5,64.9 663.3,66.8 664.5,64.3 665.8,68.6 667.6,72.4 668.9,76.7 670.5,71.7 672.0,76.1 673.8,84.8 675.2,91.0" stroke="#0a0a0a" stroke-width="1.35"/>
</g>
<rect x="478.2" y="8.6" width="197.09999999999997" height="122.20000000000002" fill="none" stroke="#6e6e6e" stroke-width="0.9"/>
<path d="M477.71 130.8v-1.6M477.71 8.6v1.6M487.62 130.8v-2.6M487.62 8.6v2.6M497.54 130.8v-1.6M497.54 8.6v1.6M507.45 130.8v-1.6M507.45 8.6v1.6M517.37 130.8v-1.6M517.37 8.6v1.6M527.28 130.8v-2.6M527.28 8.6v2.6M537.20 130.8v-1.6M537.20 8.6v1.6M547.11 130.8v-1.6M547.11 8.6v1.6M557.02 130.8v-1.6M557.02 8.6v1.6M566.94 130.8v-2.6M566.94 8.6v2.6M576.86 130.8v-1.6M576.86 8.6v1.6M586.77 130.8v-1.6M586.77 8.6v1.6M596.69 130.8v-1.6M596.69 8.6v1.6M606.60 130.8v-2.6M606.60 8.6v2.6M616.51 130.8v-1.6M616.51 8.6v1.6M626.43 130.8v-1.6M626.43 8.6v1.6M636.35 130.8v-1.6M636.35 8.6v1.6M646.26 130.8v-2.6M646.26 8.6v2.6M656.18 130.8v-1.6M656.18 8.6v1.6M666.09 130.8v-1.6M666.09 8.6v1.6M676.00 130.8v-1.6M676.00 8.6v1.6M478.2 130.80h2.6M675.3 130.80h-2.6M478.2 123.60h1.6M675.3 123.60h-1.6M478.2 116.40h1.6M675.3 116.40h-1.6M478.2 109.20h1.6M675.3 109.20h-1.6M478.2 102.00h2.6M675.3 102.00h-2.6M478.2 94.80h1.6M675.3 94.80h-1.6M478.2 87.60h1.6M675.3 87.60h-1.6M478.2 80.40h1.6M675.3 80.40h-1.6M478.2 73.20h2.6M675.3 73.20h-2.6M478.2 66.00h1.6M675.3 66.00h-1.6M478.2 58.80h1.6M675.3 58.80h-1.6M478.2 51.60h1.6M675.3 51.60h-1.6M478.2 44.40h2.6M675.3 44.40h-2.6M478.2 37.20h1.6M675.3 37.20h-1.6M478.2 30.00h1.6M675.3 30.00h-1.6M478.2 22.80h1.6M675.3 22.80h-1.6M478.2 15.60h2.6M675.3 15.60h-2.6" stroke="#6e6e6e" stroke-width="0.7" fill="none"/>
<text x="475.8" y="135.4" font-size="12.8" text-anchor="end" fill="#1a1a1a">0</text>
<text x="475.8" y="106.6" font-size="12.8" text-anchor="end" fill="#1a1a1a">2</text>
<text x="475.8" y="77.8" font-size="12.8" text-anchor="end" fill="#1a1a1a">4</text>
<text x="475.8" y="49.0" font-size="12.8" text-anchor="end" fill="#1a1a1a">6</text>
<text x="475.8" y="20.2" font-size="12.8" text-anchor="end" fill="#1a1a1a">8</text>
<text x="486.7" y="144.9" font-size="12.8" text-anchor="middle" fill="#1a1a1a">−6</text>
<text x="526.4" y="144.9" font-size="12.8" text-anchor="middle" fill="#1a1a1a">−4</text>
<text x="566.0" y="144.9" font-size="12.8" text-anchor="middle" fill="#1a1a1a">−2</text>
<text x="606.4" y="144.9" font-size="12.8" text-anchor="middle" fill="#1a1a1a">0</text>
<text x="646.1" y="144.9" font-size="12.8" text-anchor="middle" fill="#1a1a1a">2</text>
<text x="576.7" y="163" font-size="12.8" text-anchor="middle" fill="#1a1a1a">E (eV)</text>
<text transform="translate(462.6,67.5) rotate(-90)" font-size="12.8" text-anchor="middle" fill="#1a1a1a">PDOS (eV<tspan font-size="8.6" dy="-4.6">−1</tspan><tspan dy="4.6">)</tspan></text>
<text x="452.3" y="14.8" font-size="15" font-weight="bold" fill="#000">b</text>
<line x1="488.3" y1="19.3" x2="500" y2="19.3" stroke="#0a0a0a" stroke-width="1.1"/>
<text x="503.8" y="23.2" font-size="10.2" fill="#1a1a1a">Total</text>
<line x1="488.3" y1="35.1" x2="500" y2="35.1" stroke="#5b86c9" stroke-width="1.1"/>
<text x="503.8" y="39.0" font-size="10.2" fill="#1a1a1a">Ta −<tspan font-style="italic">d</tspan></text>
<line x1="488.3" y1="51.1" x2="500" y2="51.1" stroke="#f0653a" stroke-width="1.1"/>
<text x="503.8" y="55.0" font-size="10.2" fill="#1a1a1a">Sb−<tspan font-style="italic">p</tspan></text>
</g>
<g id="pc">
<path d="M66 180.3L109.5 181.5M66 180.3L69 194.8M69 194.8L111 196.4M109.5 181.5L111 196.4M111 196.4L114.3 202.3M114.3 202.3L117.1 207.5M117.1 207.5L113.4 227.8M113.4 227.8L71.9 227.3M71.9 227.3L68.7 222.4M68.7 222.4L65.4 217M65.4 217L69 194.8M109.5 181.5L140.5 200.1M140.5 200.1L147.9 210.9M147.9 210.9L148.7 225.4M148.7 225.4L143.4 247.3M117.1 207.5L148.7 225.4M113.4 227.8L143.4 247.3M140.5 200.1L91.4 272.1M147.9 210.9L99 283.2M143.4 247.3L96.8 319.5M66 180.3L11 246.7M11 246.7L8.6 270.5M11 246.7L41.1 269.1M8.6 270.5L13.3 283.8M13.3 283.8L20.9 293.6M20.9 293.6L50.2 317.2M8.6 270.5L38.5 293.9M41.1 269.1L38.5 293.9M38.5 293.9L46.7 304.9M46.7 304.9L50.2 317.2M41.1 269.1L91.4 272.1M91.4 272.1L99 283.2M99 283.2L95 307.4M95 307.4L96.8 319.5M46.7 304.9L95 307.4M50.2 317.2L96.8 319.5M65.4 217L13.3 283.8M71.9 227.3L20.9 293.6" stroke="#111" stroke-width="1.1" fill="none" stroke-linecap="round"/>
<line x1="80.7" y1="246.2" x2="168.0" y2="167.6" stroke="#1a1aff" stroke-width="1.15"/>
<polygon points="173.6,162.6 169.5,169.3 166.6,166.0" fill="#1a1aff"/>
<line x1="80.7" y1="246.2" x2="97.5" y2="190.2" stroke="#1a1aff" stroke-width="1.15"/>
<polygon points="99.6,183.0 99.6,190.8 95.3,189.6" fill="#1a1aff"/>
<line x1="80.7" y1="246.2" x2="75.4" y2="204.4" stroke="#1a1aff" stroke-width="1.15"/>
<polygon points="74.4,197.0 77.5,204.2 73.2,204.7" fill="#1a1aff"/>
<path d="M80.7 246.2L114.3 202.3M80.7 246.2L129.1 203M80.7 246.2L89 188.2M80.7 246.2L77.6 222.1M80.7 246.2L41.4 229.9M80.7 246.2L45.1 253.4M41.4 229.9L69 194.8M109.5 181.5L77.6 222.1M68.7 222.4L45.1 253.4M72.5 224 L48.3 254.3" stroke="#ff2020" stroke-width="1.15" fill="none"/>
<circle cx="80.7" cy="246.2" r="2.2" fill="#1a1aff"/>
<circle cx="114.3" cy="202.3" r="2.2" fill="#1a1aff"/>
<circle cx="129.1" cy="203" r="2.2" fill="#1a1aff"/>
<circle cx="89" cy="188.2" r="2.2" fill="#1a1aff"/>
<circle cx="77.6" cy="222.1" r="2.2" fill="#1a1aff"/>
<circle cx="41.4" cy="229.9" r="2.2" fill="#1a1aff"/>
<circle cx="45.1" cy="253.4" r="2.2" fill="#1a1aff"/>
<circle cx="69" cy="194.8" r="2.2" fill="#1a1aff"/>
<circle cx="109.5" cy="181.5" r="2.2" fill="#1a1aff"/>
<circle cx="68.7" cy="222.4" r="2.2" fill="#1a1aff"/>
<circle cx="90.9" cy="212.3" r="1.9" fill="#1a1aff"/>
<text x="84.3" y="258.6" font-size="12" fill="#2a2aff">Γ</text>
<text x="35.5" y="263" font-size="12" fill="#2a2aff">Y</text>
<text x="29.8" y="234" font-size="12" fill="#2a2aff">M</text>
<text x="71" y="233.2" font-size="12" fill="#2a2aff">A</text>
<text x="66.6" y="220" font-size="12" fill="#2a2aff">C</text>
<text x="58.7" y="197" font-size="12" fill="#2a2aff">D</text>
<text x="86.6" y="184.8" font-size="12" fill="#2a2aff">L</text>
<text x="111.8" y="181.3" font-size="12" fill="#2a2aff">D</text>
<text x="117.4" y="202.8" font-size="12" fill="#2a2aff">C</text>
<text x="131.5" y="205.6" font-size="12" fill="#2a2aff">V</text>
<text x="177.8" y="163.5" font-size="12.5" font-weight="bold" font-style="italic" fill="#000">b<tspan font-size="8.5" dy="2.2">1</tspan></text>
<text x="97" y="177" font-size="12.5" font-weight="bold" font-style="italic" fill="#000">b<tspan font-size="8.5" dy="2.2">2</tspan></text>
<text x="71.3" y="193.8" font-size="12.5" font-weight="bold" font-style="italic" fill="#000">b<tspan font-size="8.5" dy="2.2">3</tspan></text>
<text x="3.6" y="179.6" font-size="15" font-weight="bold" fill="#000">c</text>
</g>
<g id="pd">
<clipPath id="cpd"><rect x="248.6" y="182.4" width="194.50000000000003" height="116.29999999999998"/></clipPath>
<path d="M275.9 182.4V298.7M295.8 182.4V298.7M316 182.4V298.7M332.9 182.4V298.7M354.5 182.4V298.7M379.7 182.4V298.7M391.7 182.4V298.7M417.6 182.4V298.7M248.6 240.3H443.1" stroke="#858585" stroke-width="0.85" fill="none"/>
<g clip-path="url(#cpd)" fill="none" stroke="#0a0a0a" stroke-width="1.35" stroke-linecap="round" stroke-linejoin="round">
<path d="M248.6 204.0 C248.9 203.2 249.9 201.2 250.5 199.5 C251.1 197.8 251.7 195.9 252.3 194.1 C252.9 192.3 253.5 190.1 254.0 188.5 C254.5 186.9 254.8 185.8 255.2 184.6 C255.6 183.4 256.2 182.0 256.4 181.5"/>
<path d="M257.2 181.5 C257.4 182.1 258.0 183.9 258.4 185.0 C258.8 186.1 259.2 187.4 259.6 188.2 C260.1 189.0 260.5 189.7 261.1 189.7 C261.7 189.7 262.5 189.2 263.2 188.2 C263.9 187.2 264.9 184.9 265.4 183.8 C265.9 182.7 266.1 181.9 266.3 181.5"/>
<path d="M269.6 181.5 C270.0 183.1 271.2 188.0 272.0 191.1 C272.8 194.2 273.5 197.6 274.2 199.9 C274.9 202.2 275.5 204.0 276.4 205.0 C277.2 206.0 278.4 205.6 279.3 206.0 C280.2 206.4 280.9 206.0 281.5 207.2 C282.1 208.4 282.6 210.6 283.2 213.0 C283.8 215.4 284.5 219.0 285.1 221.8 C285.7 224.6 286.1 226.7 286.6 229.7 C287.1 232.7 287.6 236.2 288.1 239.9 C288.6 243.6 289.0 248.9 289.4 251.9 C289.8 254.9 290.1 255.9 290.4 257.9 C290.7 259.9 291.1 261.7 291.4 263.8 C291.7 265.9 292.1 267.8 292.4 270.5 C292.7 273.2 293.0 277.9 293.4 279.9 C293.8 281.9 294.3 281.6 294.9 282.4 C295.5 283.2 296.3 283.7 296.9 284.9 C297.5 286.1 297.7 287.5 298.3 289.8 C298.9 292.1 300.0 297.1 300.3 298.5"/>
<path d="M270.8 181.5 C271.2 182.5 272.6 186.3 273.5 187.5 C274.4 188.7 275.3 188.6 276.4 188.5 C277.5 188.4 279.0 188.0 280.0 186.8 C281.0 185.6 282.1 182.4 282.5 181.5"/>
<path d="M282.3 181.5 C282.8 182.6 284.0 185.9 285.1 188.2 C286.2 190.5 287.6 193.1 288.8 195.5 C290.0 197.9 291.3 200.9 292.4 202.8 C293.5 204.7 294.7 206.7 295.6 206.7 C296.5 206.7 296.9 204.7 297.6 202.8 C298.3 200.9 299.0 198.2 299.7 195.5 C300.4 192.8 301.3 189.1 301.9 186.8 C302.5 184.5 303.0 182.4 303.2 181.5"/>
<path d="M277.0 298.5 C277.5 297.1 279.0 293.2 280.0 289.8 C281.0 286.4 282.0 281.5 283.0 277.9 C284.0 274.3 285.0 272.4 285.9 268.0 C286.8 263.6 287.5 255.8 288.1 251.6 C288.7 247.4 288.9 246.5 289.5 242.8 C290.1 239.2 291.0 234.0 291.7 229.7 C292.4 225.4 293.3 219.7 293.9 217.0 C294.5 214.3 294.9 214.5 295.4 213.8 C295.9 213.1 296.2 214.1 296.8 213.0 C297.4 211.9 298.3 209.3 299.0 207.2 C299.7 205.1 300.5 202.3 301.2 200.6 C301.9 198.9 302.7 197.8 303.4 197.0 C304.1 196.2 304.9 195.8 305.6 195.8 C306.3 195.8 307.0 196.2 307.8 197.0 C308.6 197.8 309.7 199.6 310.7 200.6 C311.7 201.6 312.7 202.6 313.6 203.1 C314.5 203.6 315.1 203.8 316.1 203.8 C317.1 203.8 318.4 203.3 319.5 203.1 C320.6 202.9 321.5 202.4 322.4 202.5 C323.2 202.6 323.9 202.8 324.6 203.5 C325.3 204.2 326.1 205.0 326.8 206.5 C327.5 208.0 328.2 210.4 328.9 212.3 C329.6 214.2 330.4 216.5 331.1 218.1 C331.8 219.7 332.4 219.9 333.0 221.8 C333.6 223.7 334.3 226.7 334.8 229.7 C335.3 232.7 335.6 237.0 336.2 239.9 C336.8 242.8 337.7 245.0 338.4 247.2 C339.1 249.4 339.9 251.4 340.6 253.0 C341.3 254.6 342.1 255.8 342.8 256.7 C343.5 257.6 344.1 258.0 345.0 258.6 C345.9 259.2 346.9 259.6 347.9 260.6 C348.9 261.6 349.9 262.8 350.8 264.5 C351.7 266.2 352.3 268.3 353.0 271.1 C353.7 273.9 354.5 277.9 355.2 281.3 C355.9 284.7 356.7 288.6 357.4 291.5 C358.1 294.4 358.9 297.3 359.2 298.5"/>
<path d="M328.9 181.5 C329.3 182.4 330.6 185.7 331.1 186.8 C331.7 187.9 331.9 188.0 332.2 187.9 C332.5 187.8 332.6 187.1 333.0 186.0 C333.4 184.9 334.1 182.2 334.3 181.5"/>
<path d="M279.3 298.5 C279.9 296.9 281.7 292.1 282.8 289.0 C283.9 285.9 284.9 282.8 285.8 280.0 C286.7 277.2 287.7 274.5 288.4 272.0 C289.1 269.5 289.5 267.0 289.9 264.8 C290.3 262.6 290.6 261.4 290.9 258.9 C291.2 256.4 291.5 253.1 291.9 249.9 C292.3 246.7 292.8 242.7 293.2 239.9 C293.6 237.1 294.2 234.6 294.6 233.3 C295.0 232.0 295.4 232.1 295.8 232.2 C296.2 232.3 296.8 232.6 297.3 234.1 C297.8 235.6 298.3 239.1 298.7 241.4 C299.1 243.7 299.4 245.2 299.8 247.9 C300.2 250.7 300.8 254.6 301.3 257.9 C301.8 261.2 302.4 265.4 302.8 267.8 C303.2 270.2 303.2 271.1 303.6 272.5 C304.0 273.9 304.8 275.6 305.3 276.2 C305.8 276.8 306.2 276.8 306.8 276.4 C307.4 275.9 308.1 274.5 308.8 273.5 C309.6 272.5 310.5 271.2 311.3 270.5 C312.1 269.8 312.8 269.6 313.7 269.5 C314.6 269.4 315.7 269.5 316.7 270.0 C317.7 270.5 318.8 271.7 319.7 272.5 C320.6 273.3 321.5 274.6 322.2 275.0 C322.9 275.4 323.1 275.6 323.7 275.1 C324.3 274.6 325.0 274.5 325.7 272.0 C326.4 269.5 327.0 263.6 327.6 259.9 C328.2 256.2 328.9 252.9 329.6 249.9 C330.3 246.9 331.1 243.7 331.6 242.0 C332.1 240.3 332.2 239.6 332.6 239.6 C333.1 239.6 333.7 240.5 334.3 242.1 C334.9 243.7 335.6 247.1 336.2 249.4 C336.8 251.7 337.2 254.6 337.7 256.0 C338.2 257.4 338.7 258.4 339.2 258.1 C339.7 257.9 340.1 256.2 340.6 254.5 C341.1 252.8 341.6 250.8 342.1 248.0 C342.6 245.2 343.1 241.5 343.6 238.0 C344.1 234.5 344.4 231.9 345.0 226.8 C345.6 221.7 346.5 212.9 347.2 207.2 C347.9 201.5 348.8 196.5 349.4 192.6 C350.0 188.7 350.6 185.5 351.1 183.8 C351.6 182.2 351.7 182.8 352.3 182.7 C352.9 182.6 353.6 182.9 354.5 183.1 C355.4 183.3 356.7 183.5 357.4 184.1 C358.1 184.7 358.3 185.1 358.9 186.8 C359.5 188.5 360.2 191.4 361.1 194.1 C362.0 196.8 363.0 200.2 364.0 202.8 C365.0 205.4 365.9 207.0 366.9 209.4 C367.9 211.8 368.8 214.6 369.8 217.5 C370.8 220.4 371.9 223.6 372.7 226.8 C373.5 230.1 374.3 234.1 374.9 237.0 C375.5 239.9 375.6 241.3 376.1 244.0 C376.6 246.7 377.2 250.4 377.8 253.0 C378.4 255.6 379.4 256.6 380.0 259.4 C380.6 262.2 381.0 266.2 381.5 269.6 C382.0 273.0 382.5 276.9 383.0 279.8 C383.5 282.7 383.9 285.2 384.4 287.1 C384.9 289.1 385.3 290.4 385.9 291.5 C386.5 292.6 387.4 293.4 388.1 293.7 C388.8 294.0 389.7 293.6 390.3 293.3 C390.9 293.1 391.5 292.4 391.7 292.2"/>
<path d="M286.4 298.5 C286.8 296.7 288.1 291.3 288.9 287.9 C289.6 284.5 290.3 280.9 290.9 277.9 C291.5 274.9 292.0 272.0 292.4 270.0 C292.8 268.0 293.1 267.1 293.4 265.8 C293.7 264.5 294.0 263.1 294.4 262.3 C294.8 261.5 295.4 261.1 295.9 261.1 C296.4 261.1 296.9 261.5 297.4 262.3 C297.9 263.1 298.3 264.2 298.8 265.8 C299.3 267.4 299.8 270.0 300.3 272.0 C300.8 274.0 301.2 275.2 301.8 277.9 C302.4 280.5 303.1 284.5 303.8 287.9 C304.5 291.3 305.5 296.7 305.8 298.5"/>
<path d="M287.9 298.5 C288.2 297.1 289.4 291.7 289.9 289.8 C290.4 287.9 290.5 287.5 290.9 286.9 C291.3 286.3 291.9 285.9 292.4 286.4 C292.9 286.9 293.4 288.4 293.9 289.8 C294.4 291.2 294.8 293.4 295.4 294.8 C296.0 296.2 297.1 297.9 297.4 298.5"/>
<path d="M310.8 298.5 C311.1 297.9 312.1 295.8 312.7 294.8 C313.3 293.9 313.9 293.4 314.7 292.8 C315.5 292.2 316.9 292.0 317.7 291.3 C318.5 290.6 319.0 290.1 319.7 288.9 C320.4 287.7 321.0 285.7 321.7 283.9 C322.4 282.1 323.0 279.7 323.7 277.9 C324.4 276.1 325.0 274.3 325.7 273.0 C326.4 271.7 326.9 270.9 327.6 270.0 C328.3 269.1 328.9 267.9 329.7 267.8 C330.5 267.7 331.8 269.6 332.6 269.6 C333.5 269.7 334.0 268.8 334.8 268.1 C335.6 267.4 336.7 265.2 337.3 265.5 C337.9 265.8 338.0 267.0 338.4 269.6 C338.8 272.2 339.4 277.7 339.9 281.3 C340.4 284.9 340.9 289.1 341.4 291.5 C341.9 293.9 342.6 294.8 343.0 296.0 C343.4 297.2 343.8 298.1 344.0 298.5"/>
<path d="M312.7 294.8 C313.2 294.6 314.5 293.9 315.7 293.6 C316.9 293.4 318.4 293.5 319.7 293.3 C321.0 293.1 322.5 292.8 323.7 292.3 C324.9 291.8 325.8 291.4 326.6 290.3 C327.4 289.2 328.0 287.6 328.6 285.9 C329.2 284.2 329.6 281.9 330.1 279.9 C330.6 277.9 331.2 275.6 331.6 274.0 C332.0 272.4 332.1 269.7 332.6 270.0 C333.1 270.3 333.9 273.4 334.6 275.9 C335.3 278.4 336.0 282.2 336.6 284.9 C337.2 287.5 337.6 290.3 338.1 291.8 C338.6 293.3 338.9 293.4 339.5 293.8 C340.1 294.2 340.9 293.7 341.5 294.0 C342.1 294.3 342.5 295.1 343.0 295.8 C343.5 296.6 344.2 298.1 344.5 298.5"/>
<path d="M334.6 298.5 C334.9 298.1 336.0 296.4 336.6 295.8 C337.2 295.2 337.7 294.9 338.1 295.0 C338.5 295.1 338.8 295.7 339.1 296.3 C339.4 296.9 339.9 298.1 340.0 298.5"/>
<path d="M248.6 269.6 C249.1 269.6 250.7 269.1 251.6 269.3 C252.5 269.6 253.0 270.1 253.8 271.1 C254.6 272.1 255.5 274.0 256.2 275.5 C256.9 277.0 257.3 278.0 258.0 280.0 C258.7 282.0 259.8 285.2 260.5 287.5 C261.2 289.8 261.7 291.6 262.3 293.5 C262.9 295.4 263.6 298.2 263.9 299.2"/>
<path d="M248.6 292.2 C248.8 292.7 249.2 293.9 249.6 295.0 C250.0 296.1 250.6 298.2 250.8 298.8"/>
<path d="M369.1 298.5 C369.5 296.1 370.6 289.5 371.3 284.2 C372.0 278.9 372.9 271.9 373.5 266.7 C374.1 261.5 374.5 256.8 374.9 253.0 C375.3 249.2 375.7 247.2 376.1 244.0 C376.5 240.8 376.8 237.0 377.4 234.1 C378.0 231.2 379.3 229.0 380.0 226.8 C380.7 224.6 381.1 223.0 381.5 220.9 C381.9 218.8 381.8 217.3 382.2 214.5 C382.6 211.7 383.2 207.1 383.7 204.3 C384.2 201.5 384.7 199.0 385.1 197.7 C385.5 196.3 385.8 195.9 386.3 196.2 C386.8 196.4 387.4 198.1 388.1 199.2 C388.8 200.3 389.7 202.0 390.3 202.8 C390.9 203.6 391.5 203.8 391.7 204.0"/>
<path d="M374.2 298.5 C374.6 298.2 375.5 297.4 376.4 297.0 C377.2 296.6 378.6 296.6 379.3 296.2 C380.0 295.8 380.3 295.4 380.8 294.4 C381.3 293.4 381.7 291.8 382.2 290.0 C382.7 288.2 383.2 285.7 383.7 283.5 C384.2 281.3 384.5 278.8 385.1 276.9 C385.7 274.9 386.6 273.0 387.3 271.8 C388.0 270.6 388.8 270.0 389.5 269.6 C390.2 269.2 391.3 269.3 391.7 269.2"/>
<path d="M389.5 298.5 C389.7 298.1 390.1 296.5 390.5 295.9 C390.9 295.3 391.5 294.9 391.7 294.7"/>
<path d="M391.7 275.4 C391.9 275.9 392.6 276.4 393.2 278.4 C393.8 280.3 394.7 284.3 395.4 287.1 C396.1 289.9 396.9 293.2 397.6 295.1 C398.3 297.0 399.4 297.9 399.7 298.5"/>
<path d="M403.4 298.5 C403.9 296.9 405.3 291.7 406.3 288.6 C407.3 285.5 408.2 282.4 409.2 279.8 C410.2 277.2 411.2 274.9 412.2 273.2 C413.2 271.5 414.2 270.6 415.1 269.9 C416.0 269.2 416.6 269.2 417.6 269.2 C418.6 269.1 419.9 268.9 420.9 269.6 C421.9 270.3 422.8 271.2 423.8 273.2 C424.8 275.1 425.8 278.5 426.8 281.3 C427.8 284.1 428.7 287.1 429.7 290.0 C430.7 292.9 432.1 297.1 432.6 298.5"/>
<path d="M414.3 298.5 C414.7 297.7 415.9 294.8 416.5 293.7 C417.1 292.6 417.2 292.2 417.6 292.2 C418.0 292.2 418.1 292.6 418.7 293.7 C419.2 294.8 420.5 297.7 420.9 298.5"/>
<path d="M415.3 298.5 C415.6 297.9 416.5 295.8 416.9 295.0 C417.3 294.2 417.4 294.0 417.6 294.0 C417.8 294.0 417.9 294.2 418.3 295.0 C418.7 295.8 419.6 297.9 419.9 298.5"/>
<path d="M391.7 218.1 C392.1 218.0 393.2 218.1 393.9 217.4 C394.6 216.7 395.4 215.8 396.1 213.8 C396.8 211.9 397.5 208.8 398.3 205.7 C399.1 202.6 400.2 197.8 401.2 195.5 C402.2 193.2 403.1 193.1 404.1 191.9 C405.1 190.7 406.3 189.2 407.0 188.5 C407.7 187.8 407.9 187.5 408.5 187.9 C409.1 188.3 409.8 189.5 410.7 191.1 C411.6 192.7 412.7 195.9 413.6 197.7 C414.5 199.5 415.4 201.2 416.1 202.1 C416.8 203.0 417.0 203.2 417.6 203.1 C418.2 203.0 418.8 202.7 419.5 201.4 C420.2 200.1 421.0 197.7 421.7 195.5 C422.4 193.3 423.1 190.3 423.8 188.2 C424.5 186.1 425.2 184.0 425.6 183.1 C426.1 182.2 426.2 182.1 426.5 182.7 C426.8 183.3 427.1 185.2 427.5 186.8 C427.9 188.5 428.5 191.4 428.9 192.6 C429.3 193.8 429.7 193.9 430.1 193.8 C430.5 193.8 430.9 193.6 431.4 192.3 C431.9 191.0 432.7 187.8 433.3 186.0 C433.9 184.2 434.7 182.2 435.0 181.5"/>
</g>
<rect x="248.6" y="182.4" width="194.50000000000003" height="116.29999999999998" fill="none" stroke="#6e6e6e" stroke-width="0.9"/>
<path d="M248.6 182.40h2.6M443.1 182.40h-2.6M248.6 188.22h1.5M443.1 188.22h-1.5M248.6 194.03h1.5M443.1 194.03h-1.5M248.6 199.84h1.5M443.1 199.84h-1.5M248.6 205.66h1.5M443.1 205.66h-1.5M248.6 211.47h2.6M443.1 211.47h-2.6M248.6 217.29h1.5M443.1 217.29h-1.5M248.6 223.11h1.5M443.1 223.11h-1.5M248.6 228.92h1.5M443.1 228.92h-1.5M248.6 234.74h1.5M443.1 234.74h-1.5M248.6 240.55h2.6M443.1 240.55h-2.6M248.6 246.37h1.5M443.1 246.37h-1.5M248.6 252.18h1.5M443.1 252.18h-1.5M248.6 258.00h1.5M443.1 258.00h-1.5M248.6 263.81h1.5M443.1 263.81h-1.5M248.6 269.62h2.6M443.1 269.62h-2.6M248.6 275.44h1.5M443.1 275.44h-1.5M248.6 281.25h1.5M443.1 281.25h-1.5M248.6 287.07h1.5M443.1 287.07h-1.5M248.6 292.88h1.5M443.1 292.88h-1.5M248.6 298.70h2.6M443.1 298.70h-2.6M254.20 182.4v1.3M259.80 182.4v1.3M265.40 182.4v1.3M271.00 182.4v1.3M276.60 182.4v1.3M282.20 182.4v1.3M287.80 182.4v1.3M293.40 182.4v1.3M299.00 182.4v1.3M304.60 182.4v1.3M310.20 182.4v1.3M315.80 182.4v1.3M321.40 182.4v1.3M327.00 182.4v1.3M332.60 182.4v1.3M338.20 182.4v1.3M343.80 182.4v1.3M349.40 182.4v1.3M355.00 182.4v1.3M360.60 182.4v1.3M366.20 182.4v1.3M371.80 182.4v1.3M377.40 182.4v1.3M383.00 182.4v1.3M388.60 182.4v1.3M394.20 182.4v1.3M399.80 182.4v1.3M405.40 182.4v1.3M411.00 182.4v1.3M416.60 182.4v1.3M422.20 182.4v1.3M427.80 182.4v1.3M433.40 182.4v1.3M439.00 182.4v1.3" stroke="#6e6e6e" stroke-width="0.7" fill="none"/>
<text x="246.0" y="186.0" font-size="11.4" text-anchor="end" fill="#1a1a1a">1.0</text>
<text x="246.0" y="215.2" font-size="11.4" text-anchor="end" fill="#1a1a1a">0.5</text>
<text x="246.0" y="244.5" font-size="11.4" text-anchor="end" fill="#1a1a1a">0.0</text>
<text x="246.0" y="273.8" font-size="11.4" text-anchor="end" fill="#1a1a1a">−0.5</text>
<text x="246.0" y="303.0" font-size="11.4" text-anchor="end" fill="#1a1a1a">−1.0</text>
<text x="248.6" y="310.8" font-size="11.4" text-anchor="middle" fill="#1a1a1a">Γ</text>
<text x="275.9" y="310.8" font-size="11.4" text-anchor="middle" fill="#1a1a1a">C</text>
<text x="295.8" y="310.8" font-size="11.4" text-anchor="middle" fill="#1a1a1a">Y</text>
<text x="316" y="310.8" font-size="11.4" text-anchor="middle" fill="#1a1a1a">Γ</text>
<text x="332.9" y="310.8" font-size="11.4" text-anchor="middle" fill="#1a1a1a">M</text>
<text x="354.5" y="310.8" font-size="11.4" text-anchor="middle" fill="#1a1a1a">D</text>
<text x="383.3" y="310.8" font-size="11.4" text-anchor="end" fill="#1a1a1a">A</text>
<text x="391.3" y="310.8" font-size="11.4" text-anchor="middle" fill="#1a1a1a">Γ|L</text>
<text x="417.6" y="310.8" font-size="11.4" text-anchor="middle" fill="#1a1a1a">Γ</text>
<text x="443.1" y="310.8" font-size="11.4" text-anchor="middle" fill="#1a1a1a">V</text>
<text x="208.2" y="180" font-size="15" font-weight="bold" fill="#000">d</text>
<line x1="272.0" y1="244.6" x2="279.6" y2="244.6" stroke="#ff1a1a" stroke-width="2.4"/>
<polygon points="284.6,244.6 279.6,248.0 279.6,241.2" fill="#ff1a1a"/>
<line x1="342.8" y1="232.2" x2="340.2" y2="238.4" stroke="#ff1a1a" stroke-width="2.4"/>
<polygon points="338.3,243.0 337.1,237.1 343.4,239.7" fill="#ff1a1a"/>
<line x1="391.0" y1="244.0" x2="382.6" y2="244.0" stroke="#ff1a1a" stroke-width="2.4"/>
<polygon points="377.6,244.0 382.6,240.6 382.6,247.4" fill="#ff1a1a"/>
</g>
<g id="pe">
<clipPath id="cpe"><rect x="484.3" y="182.4" width="194.09999999999997" height="116.29999999999998"/></clipPath>
<path d="M511.8 182.4V298.7M531.4 182.4V298.7M551 182.4V298.7M568.4 182.4V298.7M589.9 182.4V298.7M615.7 182.4V298.7M627.3 182.4V298.7M653.2 182.4V298.7M484.3 240.3H678.4" stroke="#858585" stroke-width="0.85" fill="none"/>
<g clip-path="url(#cpe)" fill="none" stroke="#0a0a0a" stroke-width="1.35" stroke-linecap="round" stroke-linejoin="round">
<path d="M484.3 206.5 C484.7 205.9 485.8 204.8 486.5 202.8 C487.2 200.9 488.0 197.5 488.7 194.8 C489.4 192.1 490.3 188.5 490.9 186.8 C491.5 185.1 491.8 184.6 492.3 184.6 C492.8 184.6 493.3 185.8 493.8 186.8 C494.3 187.8 495.0 189.7 495.5 190.4 C496.0 191.1 496.4 191.4 497.0 191.2 C497.6 191.0 498.2 190.0 498.9 189.0 C499.6 188.0 500.4 186.3 501.1 185.3 C501.8 184.3 502.8 183.2 503.3 182.8 C503.8 182.4 503.9 182.5 504.3 182.8 C504.7 183.1 505.1 183.3 505.5 184.6 C505.9 185.9 506.3 188.0 506.9 190.4 C507.5 192.8 508.4 196.5 509.1 199.2 C509.8 201.9 510.7 204.8 511.3 206.5 C511.9 208.2 512.2 208.6 512.8 209.1 C513.4 209.6 514.3 209.2 515.0 209.4 C515.7 209.6 516.6 209.4 517.2 210.1 C517.8 210.8 518.2 212.2 518.6 213.8 C519.0 215.5 519.4 218.1 519.8 220.0 C520.2 221.9 520.3 222.7 520.9 225.3 C521.5 227.9 522.5 233.1 523.1 235.5 C523.7 237.9 524.0 239.9 524.5 239.9 C525.0 239.9 525.4 237.9 526.0 235.5 C526.6 233.1 527.6 228.4 528.2 225.3 C528.8 222.2 529.1 219.0 529.6 217.0 C530.1 215.0 530.5 213.9 531.0 213.1 C531.5 212.3 531.9 213.2 532.5 212.3 C533.1 211.5 533.9 209.6 534.7 208.0 C535.6 206.4 536.6 204.0 537.6 202.8 C538.6 201.6 539.5 201.0 540.5 200.7 C541.5 200.4 542.5 200.4 543.4 200.9 C544.3 201.4 544.9 202.7 545.8 203.5 C546.7 204.3 547.9 205.4 548.8 206.0 C549.6 206.6 549.9 206.9 550.9 206.8 C551.9 206.8 553.4 205.9 554.6 205.7 C555.8 205.4 557.1 205.1 558.2 205.3 C559.3 205.6 560.3 206.3 561.2 207.2 C562.1 208.1 562.7 209.3 563.4 210.8 C564.1 212.3 564.8 214.3 565.5 216.0 C566.2 217.7 567.0 219.5 567.7 221.1 C568.4 222.7 569.2 223.4 569.8 225.3 C570.4 227.2 570.6 229.7 571.2 232.6 C571.8 235.5 572.8 240.1 573.4 242.8 C574.0 245.5 574.4 247.5 574.9 248.7 C575.4 249.9 575.7 250.3 576.1 250.1 C576.5 249.8 577.0 248.9 577.5 247.2 C578.0 245.5 578.8 243.3 579.3 239.9 C579.8 236.5 580.1 231.5 580.6 227.0 C581.1 222.5 581.8 217.0 582.3 213.0 C582.8 209.0 583.3 206.1 583.8 202.8 C584.3 199.5 584.9 195.4 585.5 193.3 C586.1 191.2 586.7 190.8 587.4 190.4 C588.1 190.0 589.0 190.5 589.9 190.8 C590.8 191.1 591.8 191.5 592.6 192.3 C593.4 193.1 594.0 194.0 594.7 195.5 C595.4 197.0 596.0 199.2 596.9 201.4 C597.8 203.6 598.9 206.5 599.9 208.7 C600.9 210.9 601.8 212.6 602.8 214.5 C603.8 216.4 604.9 218.3 605.7 220.3 C606.6 222.3 607.3 224.4 607.9 226.5 C608.5 228.6 608.7 230.7 609.2 232.6 C609.7 234.5 610.5 237.8 611.1 238.1 C611.7 238.3 612.1 235.3 612.8 234.1 C613.4 232.9 614.4 232.6 615.0 231.1 C615.6 229.6 616.1 227.8 616.5 225.3 C616.9 222.8 617.0 219.0 617.4 216.0 C617.8 213.0 618.3 209.8 618.8 207.2 C619.3 204.6 619.8 202.1 620.3 200.6 C620.8 199.1 621.3 198.5 621.8 198.4 C622.3 198.3 622.6 198.9 623.2 199.9 C623.8 200.9 624.7 203.1 625.4 204.3 C626.1 205.5 627.0 206.7 627.3 207.2"/>
<path d="M506.2 181.5 C506.4 182.4 507.1 185.5 507.7 186.8 C508.3 188.1 509.2 188.8 509.9 189.3 C510.6 189.9 511.1 190.1 512.0 190.1 C512.9 190.1 514.0 189.6 515.0 189.3 C516.0 189.0 517.0 188.1 517.9 188.2 C518.8 188.3 519.2 188.7 520.1 189.7 C521.0 190.7 522.0 192.5 523.0 194.1 C524.0 195.7 524.9 197.5 525.9 199.2 C526.9 200.9 527.9 202.8 528.8 204.3 C529.7 205.8 530.7 208.1 531.4 208.0 C532.1 207.9 532.5 205.8 533.2 203.6 C533.9 201.4 534.7 197.7 535.4 194.8 C536.1 191.9 537.0 188.3 537.6 186.1 C538.2 183.9 538.6 182.3 538.8 181.5"/>
<path d="M563.4 181.5 C563.8 182.5 564.9 186.2 565.5 187.5 C566.1 188.8 566.8 189.4 567.3 189.4 C567.8 189.4 568.1 188.8 568.5 187.5 C568.9 186.2 569.5 182.5 569.7 181.5"/>
<path d="M633.2 181.8 C633.6 182.1 634.8 183.8 635.6 183.8 C636.4 183.8 637.6 182.1 638.0 181.8"/>
<path d="M627.3 221.5 C627.7 221.3 628.8 221.1 629.5 220.3 C630.2 219.5 631.0 218.6 631.7 216.7 C632.4 214.8 633.2 211.5 633.9 208.7 C634.6 205.9 635.4 202.1 636.1 199.9 C636.8 197.7 637.4 196.7 638.3 195.5 C639.1 194.3 640.4 193.4 641.2 192.6 C642.1 191.8 642.8 190.7 643.4 190.4 C644.0 190.1 644.3 190.1 644.9 190.8 C645.5 191.5 646.3 193.3 647.0 194.8 C647.7 196.3 648.5 198.2 649.2 199.9 C649.9 201.6 650.7 203.9 651.4 205.0 C652.1 206.1 652.7 206.6 653.3 206.5 C653.9 206.4 654.4 205.7 655.1 204.3 C655.8 203.0 656.6 200.6 657.3 198.4 C658.0 196.2 658.9 192.9 659.5 191.1 C660.1 189.3 660.5 188.1 660.9 187.5 C661.3 186.9 661.5 186.9 661.9 187.5 C662.3 188.1 662.6 189.8 663.1 191.1 C663.6 192.4 664.2 194.7 664.6 195.5 C665.0 196.3 665.2 196.6 665.7 196.2 C666.2 195.8 666.8 194.8 667.5 193.3 C668.2 191.9 669.0 188.9 669.7 187.5 C670.4 186.1 671.2 185.3 671.9 184.6 C672.6 183.9 673.4 183.6 674.0 183.1 C674.6 182.6 675.2 181.8 675.5 181.5"/>
<path d="M512.4 298.7 C512.9 297.2 514.5 293.4 515.5 290.0 C516.5 286.6 517.5 282.6 518.4 278.4 C519.3 274.2 520.4 268.0 521.0 265.0 C521.6 262.0 521.6 262.1 522.0 260.3 C522.4 258.6 522.7 255.7 523.1 254.5 C523.5 253.3 523.8 252.9 524.2 253.0 C524.6 253.1 525.0 254.9 525.3 255.2 C525.6 255.4 525.6 255.8 526.0 254.5 C526.4 253.2 526.9 249.6 527.4 247.2 C527.9 244.8 528.4 242.1 528.9 239.9 C529.4 237.7 530.0 235.4 530.4 234.1 C530.8 232.8 531.0 232.2 531.4 232.2 C531.8 232.2 532.2 232.8 532.6 234.1 C533.0 235.4 533.5 237.7 534.0 239.9 C534.5 242.1 535.0 244.5 535.5 247.2 C536.0 249.9 536.4 253.0 536.9 256.0 C537.4 259.0 537.9 262.5 538.4 265.0 C538.9 267.5 539.3 269.1 539.9 271.1 C540.5 273.1 541.4 275.8 542.0 276.9 C542.6 278.0 542.9 278.0 543.5 277.6 C544.1 277.2 544.9 275.5 545.7 274.7 C546.6 273.9 547.6 273.1 548.6 272.8 C549.6 272.6 550.4 273.0 551.5 273.2 C552.6 273.4 554.1 274.2 555.2 274.0 C556.3 273.8 557.2 272.9 558.1 271.8 C559.0 270.7 559.6 269.5 560.3 267.4 C561.0 265.3 561.9 261.3 562.5 259.4 C563.1 257.5 563.3 258.3 563.9 256.0 C564.5 253.7 565.5 248.3 566.1 245.7 C566.7 243.1 567.2 241.6 567.6 240.6 C568.0 239.6 567.9 239.3 568.3 239.6 C568.7 239.8 569.3 240.5 569.8 242.1 C570.3 243.7 570.7 247.0 571.2 249.4 C571.7 251.8 572.2 255.0 572.7 256.7 C573.2 258.4 573.7 259.6 574.2 259.6 C574.7 259.6 575.2 257.4 575.6 256.7 C576.0 256.0 576.2 255.6 576.6 255.7 C577.0 255.8 577.5 256.4 578.1 257.1 C578.7 257.9 579.2 259.4 580.0 260.2 C580.8 261.0 581.9 261.1 582.9 261.7 C583.9 262.3 584.9 262.8 585.8 263.9 C586.6 265.0 587.3 266.4 588.0 268.1 C588.7 269.8 589.3 271.3 589.9 274.0 C590.5 276.7 591.1 281.0 591.7 284.2 C592.3 287.4 592.9 290.6 593.4 293.0 C593.9 295.4 594.4 297.6 594.6 298.5"/>
<path d="M514.7 298.7 C515.4 296.5 517.5 290.1 518.7 285.7 C519.9 281.3 521.1 275.9 522.1 272.5 C523.1 269.1 524.0 266.6 524.6 265.2 C525.2 263.8 525.6 263.4 526.0 263.8 C526.4 264.2 526.7 266.3 527.0 267.4 C527.3 268.5 527.5 270.6 527.9 270.3 C528.3 270.1 528.8 267.0 529.3 265.9 C529.8 264.8 530.5 263.7 531.1 263.5 C531.7 263.3 532.2 263.5 532.8 264.5 C533.4 265.5 534.0 267.1 534.7 269.6 C535.4 272.2 536.2 276.4 536.9 279.8 C537.6 283.2 538.4 286.9 539.1 290.0 C539.8 293.1 540.9 297.1 541.3 298.5"/>
<path d="M521.6 298.5 C522.0 297.1 523.1 293.0 523.8 290.0 C524.5 287.0 525.4 282.7 526.0 280.5 C526.6 278.3 527.0 276.8 527.4 276.9 C527.8 277.0 528.1 279.6 528.5 281.3 C528.9 283.0 529.1 285.8 529.6 287.1 C530.1 288.4 530.8 288.6 531.4 289.3 C532.0 290.0 532.6 290.0 533.3 291.5 C534.0 293.0 535.1 297.3 535.5 298.5"/>
<path d="M525.3 298.5 C525.6 297.8 526.7 295.1 527.4 294.1 C528.1 293.1 528.7 292.6 529.3 292.7 C529.9 292.8 530.5 293.4 531.1 294.4 C531.7 295.4 532.4 297.8 532.6 298.5"/>
<path d="M542.8 298.5 C543.2 297.6 544.3 294.8 545.0 293.0 C545.7 291.2 546.4 289.3 547.2 287.8 C548.1 286.3 549.1 285.0 550.1 284.2 C551.1 283.4 551.9 283.2 553.0 283.0 C554.1 282.8 555.5 283.3 556.6 283.0 C557.7 282.7 558.7 282.3 559.6 281.3 C560.5 280.3 561.1 278.4 561.8 276.9 C562.5 275.4 563.2 273.6 563.9 272.5 C564.6 271.4 565.4 270.5 566.1 270.3 C566.8 270.1 567.6 271.2 568.3 271.1 C569.0 271.0 569.8 270.1 570.5 269.6 C571.2 269.1 572.1 267.6 572.7 268.1 C573.3 268.6 573.7 270.3 574.2 272.5 C574.7 274.7 575.1 278.4 575.6 281.3 C576.1 284.2 576.6 287.7 577.1 290.0 C577.6 292.3 577.9 293.7 578.5 295.1 C579.1 296.5 580.2 297.9 580.5 298.5"/>
<path d="M559.6 298.5 C560.1 297.8 561.6 296.3 562.5 294.4 C563.4 292.5 564.0 290.0 564.7 287.1 C565.4 284.2 566.3 279.2 566.9 276.9 C567.5 274.6 567.8 273.2 568.3 273.2 C568.8 273.2 569.2 274.8 569.8 276.9 C570.4 279.0 571.3 283.1 572.0 285.7 C572.7 288.2 573.5 290.5 574.2 292.2 C574.9 293.9 575.5 294.8 576.4 295.9 C577.2 296.9 578.8 298.1 579.3 298.5"/>
<path d="M484.4 273.2 C484.9 273.1 486.3 272.2 487.3 272.5 C488.3 272.8 489.2 273.2 490.2 274.7 C491.2 276.2 492.1 278.8 493.1 281.3 C494.1 283.9 495.2 287.4 496.1 290.0 C497.0 292.6 497.7 295.2 498.2 296.6 C498.7 298.0 498.9 298.2 499.0 298.5"/>
<path d="M484.4 283.5 C484.6 284.4 485.3 286.1 485.8 288.6 C486.3 291.1 487.1 296.9 487.3 298.5"/>
<path d="M605.5 298.5 C605.9 296.1 607.0 289.5 607.7 284.2 C608.4 278.9 609.3 271.4 609.9 266.7 C610.5 262.0 610.7 258.3 611.1 256.0 C611.5 253.7 611.7 252.9 612.1 252.7 C612.5 252.4 613.1 253.7 613.6 254.5 C614.1 255.3 614.5 256.1 615.0 257.6 C615.5 259.2 616.0 261.3 616.5 263.8 C617.0 266.3 617.7 269.9 618.2 272.5 C618.7 275.1 619.2 277.8 619.7 279.1 C620.2 280.4 620.5 280.8 620.9 280.5 C621.3 280.2 621.8 278.7 622.3 277.6 C622.8 276.5 623.3 274.7 623.8 274.0 C624.3 273.3 624.9 273.3 625.5 273.2 C626.1 273.1 627.0 273.4 627.3 273.5"/>
<path d="M610.7 298.5 C611.6 298.4 614.6 298.3 615.8 297.6 C617.0 296.9 617.3 295.7 618.0 294.4 C618.7 293.1 619.4 290.8 620.1 290.0 C620.8 289.2 621.6 290.3 622.3 289.7 C623.0 289.1 623.7 287.6 624.5 286.4 C625.3 285.2 626.8 283.3 627.3 282.7"/>
<path d="M627.3 275.4 C627.6 275.9 628.3 276.4 628.9 278.4 C629.5 280.3 630.4 284.3 631.1 287.1 C631.8 289.9 632.7 293.2 633.3 295.1 C633.9 297.0 634.5 297.9 634.7 298.5"/>
<path d="M638.4 298.5 C638.9 297.1 640.3 292.8 641.3 290.0 C642.3 287.2 643.2 284.3 644.2 282.0 C645.2 279.7 646.2 277.7 647.2 276.2 C648.2 274.7 649.1 273.8 650.1 273.2 C651.1 272.6 651.9 272.8 653.0 272.8 C654.1 272.8 655.6 272.8 656.6 273.0 C657.6 273.2 657.9 273.2 658.8 274.3 C659.7 275.4 660.8 277.6 661.8 279.8 C662.8 282.1 663.7 285.1 664.7 287.8 C665.7 290.5 666.9 294.1 667.6 295.9 C668.3 297.7 668.6 298.1 668.8 298.5"/>
<path d="M648.6 298.5 C649.0 297.1 650.1 292.4 650.8 290.0 C651.5 287.6 652.2 285.3 652.6 284.2 C653.0 283.1 653.1 283.1 653.4 283.5 C653.7 283.9 654.1 284.8 654.5 286.4 C654.9 288.0 655.5 291.0 655.9 293.0 C656.3 295.0 656.9 297.6 657.1 298.5"/>
<path d="M677.0 298.4 C677.2 298.1 677.8 297.2 678.0 296.8 C678.2 296.4 678.4 296.1 678.5 296.0"/>
</g>
<rect x="484.3" y="182.4" width="194.09999999999997" height="116.29999999999998" fill="none" stroke="#6e6e6e" stroke-width="0.9"/>
<path d="M484.3 182.40h2.6M678.4 182.40h-2.6M484.3 188.22h1.5M678.4 188.22h-1.5M484.3 194.03h1.5M678.4 194.03h-1.5M484.3 199.84h1.5M678.4 199.84h-1.5M484.3 205.66h1.5M678.4 205.66h-1.5M484.3 211.47h2.6M678.4 211.47h-2.6M484.3 217.29h1.5M678.4 217.29h-1.5M484.3 223.11h1.5M678.4 223.11h-1.5M484.3 228.92h1.5M678.4 228.92h-1.5M484.3 234.74h1.5M678.4 234.74h-1.5M484.3 240.55h2.6M678.4 240.55h-2.6M484.3 246.37h1.5M678.4 246.37h-1.5M484.3 252.18h1.5M678.4 252.18h-1.5M484.3 258.00h1.5M678.4 258.00h-1.5M484.3 263.81h1.5M678.4 263.81h-1.5M484.3 269.62h2.6M678.4 269.62h-2.6M484.3 275.44h1.5M678.4 275.44h-1.5M484.3 281.25h1.5M678.4 281.25h-1.5M484.3 287.07h1.5M678.4 287.07h-1.5M484.3 292.88h1.5M678.4 292.88h-1.5M484.3 298.70h2.6M678.4 298.70h-2.6M489.90 182.4v1.3M495.50 182.4v1.3M501.10 182.4v1.3M506.70 182.4v1.3M512.30 182.4v1.3M517.90 182.4v1.3M523.50 182.4v1.3M529.10 182.4v1.3M534.70 182.4v1.3M540.30 182.4v1.3M545.90 182.4v1.3M551.50 182.4v1.3M557.10 182.4v1.3M562.70 182.4v1.3M568.30 182.4v1.3M573.90 182.4v1.3M579.50 182.4v1.3M585.10 182.4v1.3M590.70 182.4v1.3M596.30 182.4v1.3M601.90 182.4v1.3M607.50 182.4v1.3M613.10 182.4v1.3M618.70 182.4v1.3M624.30 182.4v1.3M629.90 182.4v1.3M635.50 182.4v1.3M641.10 182.4v1.3M646.70 182.4v1.3M652.30 182.4v1.3M657.90 182.4v1.3M663.50 182.4v1.3M669.10 182.4v1.3M674.70 182.4v1.3" stroke="#6e6e6e" stroke-width="0.7" fill="none"/>
<text x="481.7" y="186.0" font-size="11.4" text-anchor="end" fill="#1a1a1a">1.0</text>
<text x="481.7" y="215.2" font-size="11.4" text-anchor="end" fill="#1a1a1a">0.5</text>
<text x="481.7" y="244.5" font-size="11.4" text-anchor="end" fill="#1a1a1a">0.0</text>
<text x="481.7" y="273.8" font-size="11.4" text-anchor="end" fill="#1a1a1a">−0.5</text>
<text x="481.7" y="303.0" font-size="11.4" text-anchor="end" fill="#1a1a1a">−1.0</text>
<text x="484.3" y="310.8" font-size="11.4" text-anchor="middle" fill="#1a1a1a">Γ</text>
<text x="511.8" y="310.8" font-size="11.4" text-anchor="middle" fill="#1a1a1a">C</text>
<text x="531.4" y="310.8" font-size="11.4" text-anchor="middle" fill="#1a1a1a">Y</text>
<text x="551" y="310.8" font-size="11.4" text-anchor="middle" fill="#1a1a1a">Γ</text>
<text x="568.4" y="310.8" font-size="11.4" text-anchor="middle" fill="#1a1a1a">M</text>
<text x="589.9" y="310.8" font-size="11.4" text-anchor="middle" fill="#1a1a1a">D</text>
<text x="619.3000000000001" y="310.8" font-size="11.4" text-anchor="end" fill="#1a1a1a">A</text>
<text x="626.9" y="310.8" font-size="11.4" text-anchor="middle" fill="#1a1a1a">Γ|L</text>
<text x="653.2" y="310.8" font-size="11.4" text-anchor="middle" fill="#1a1a1a">Γ</text>
<text x="678.4" y="310.8" font-size="11.4" text-anchor="middle" fill="#1a1a1a">V</text>
<text x="454" y="180" font-size="15" font-weight="bold" fill="#000">e</text>
</g>
<text transform="translate(214.3,241.0) rotate(-90)" font-size="11.4" text-anchor="middle" fill="#1a1a1a"><tspan font-style="italic">E</tspan>−<tspan font-style="italic">E</tspan><tspan font-style="italic" font-size="8" dy="1.8">F</tspan><tspan dy="-1.8"> (eV)</tspan></text>
</svg>
</body></html>
